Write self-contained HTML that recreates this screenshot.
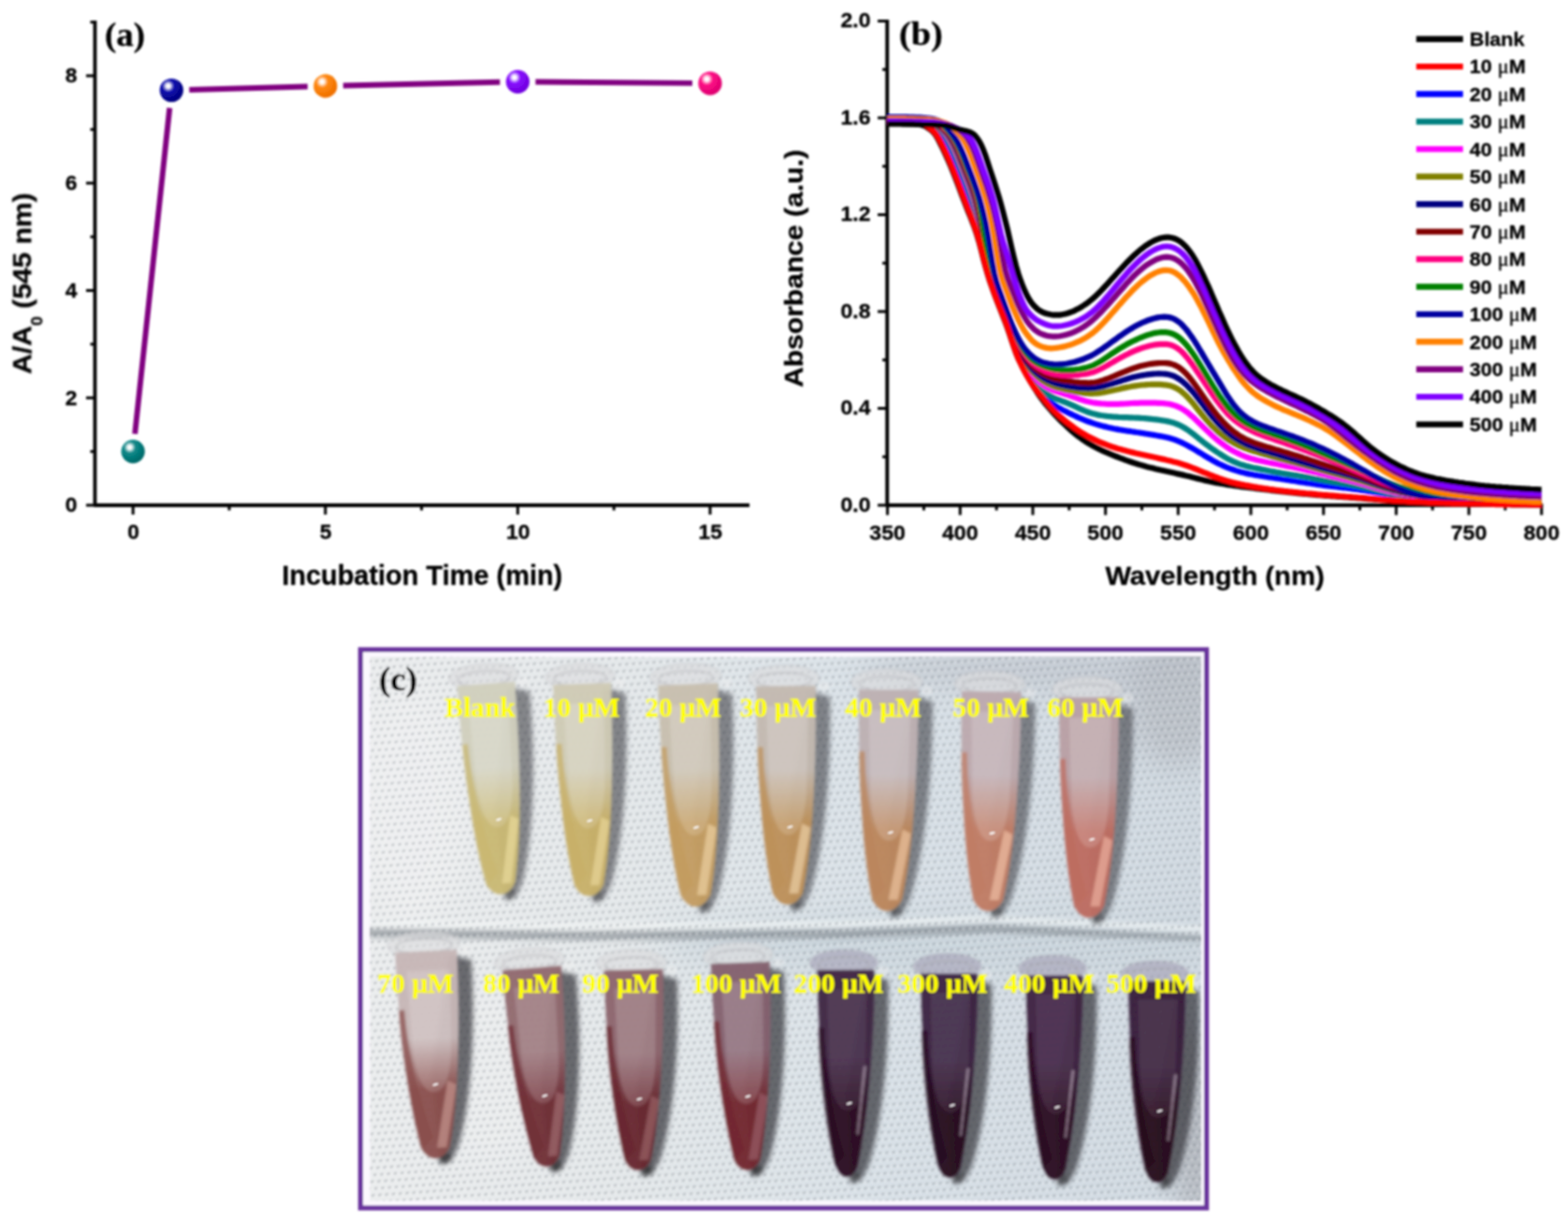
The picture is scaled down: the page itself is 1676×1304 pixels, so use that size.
<!DOCTYPE html>
<html lang="en"><head><meta charset="utf-8"><title>Figure</title>
<style>
html,body{margin:0;padding:0;background:#fff;}
body{width:1676px;height:1304px;overflow:hidden;position:relative;}
svg{display:block;position:absolute;left:0;top:0;}
text{white-space:pre;}
</style></head><body>
<svg width="1676" height="1304" viewBox="0 0 1676 1304">
<defs>
<radialGradient id="sph-teal" cx="0.36" cy="0.32" r="0.75" fx="0.36" fy="0.32"><stop offset="0" stop-color="#fff"/><stop offset="0.10" stop-color="#fff" stop-opacity="1"/><stop offset="0.32" stop-color="#0a8a8a"/><stop offset="0.85" stop-color="#006a6a"/><stop offset="1" stop-color="#006a6a"/></radialGradient>
<radialGradient id="sph-navy" cx="0.36" cy="0.32" r="0.75" fx="0.36" fy="0.32"><stop offset="0" stop-color="#fff"/><stop offset="0.10" stop-color="#fff" stop-opacity="1"/><stop offset="0.32" stop-color="#1010b0"/><stop offset="0.85" stop-color="#000080"/><stop offset="1" stop-color="#000080"/></radialGradient>
<radialGradient id="sph-orange" cx="0.36" cy="0.32" r="0.75" fx="0.36" fy="0.32"><stop offset="0" stop-color="#fff"/><stop offset="0.10" stop-color="#fff" stop-opacity="1"/><stop offset="0.32" stop-color="#ff8a10"/><stop offset="0.85" stop-color="#f07000"/><stop offset="1" stop-color="#f07000"/></radialGradient>
<radialGradient id="sph-violet" cx="0.36" cy="0.32" r="0.75" fx="0.36" fy="0.32"><stop offset="0" stop-color="#fff"/><stop offset="0.10" stop-color="#fff" stop-opacity="1"/><stop offset="0.32" stop-color="#8a10ff"/><stop offset="0.85" stop-color="#7000e0"/><stop offset="1" stop-color="#7000e0"/></radialGradient>
<radialGradient id="sph-pink" cx="0.36" cy="0.32" r="0.75" fx="0.36" fy="0.32"><stop offset="0" stop-color="#fff"/><stop offset="0.10" stop-color="#fff" stop-opacity="1"/><stop offset="0.32" stop-color="#ff1088"/><stop offset="0.85" stop-color="#e00070"/><stop offset="1" stop-color="#e00070"/></radialGradient>
<filter id="soft" x="0" y="0" width="1676" height="1304" filterUnits="userSpaceOnUse"><feGaussianBlur stdDeviation="0.8"/></filter>
<filter id="soft2" x="0" y="0" width="1676" height="1304" filterUnits="userSpaceOnUse"><feGaussianBlur stdDeviation="0.8"/></filter>
<linearGradient id="tg-Blank" x1="0" y1="0" x2="0" y2="1"><stop offset="0" stop-color="#d0cfbd"/><stop offset="0.40" stop-color="#d0cfbd"/><stop offset="0.65" stop-color="#c9b873"/><stop offset="1" stop-color="#c9b873"/></linearGradient>
<linearGradient id="tg-10" x1="0" y1="0" x2="0" y2="1"><stop offset="0" stop-color="#cfcab4"/><stop offset="0.40" stop-color="#cfcab4"/><stop offset="0.65" stop-color="#c8b068"/><stop offset="1" stop-color="#c8b068"/></linearGradient>
<linearGradient id="tg-20" x1="0" y1="0" x2="0" y2="1"><stop offset="0" stop-color="#c8bfae"/><stop offset="0.38" stop-color="#c8bfae"/><stop offset="0.63" stop-color="#c39c60"/><stop offset="1" stop-color="#c39c60"/></linearGradient>
<linearGradient id="tg-30" x1="0" y1="0" x2="0" y2="1"><stop offset="0" stop-color="#c3b9b0"/><stop offset="0.38" stop-color="#c3b9b0"/><stop offset="0.63" stop-color="#bd9058"/><stop offset="1" stop-color="#bd9058"/></linearGradient>
<linearGradient id="tg-40" x1="0" y1="0" x2="0" y2="1"><stop offset="0" stop-color="#bdb0b2"/><stop offset="0.38" stop-color="#bdb0b2"/><stop offset="0.63" stop-color="#bb865c"/><stop offset="1" stop-color="#bb865c"/></linearGradient>
<linearGradient id="tg-50" x1="0" y1="0" x2="0" y2="1"><stop offset="0" stop-color="#bca9ae"/><stop offset="0.38" stop-color="#bca9ae"/><stop offset="0.63" stop-color="#c07c64"/><stop offset="1" stop-color="#c07c64"/></linearGradient>
<linearGradient id="tg-60" x1="0" y1="0" x2="0" y2="1"><stop offset="0" stop-color="#b9a0a4"/><stop offset="0.36" stop-color="#b9a0a4"/><stop offset="0.61" stop-color="#bd6c60"/><stop offset="1" stop-color="#bd6c60"/></linearGradient>
<linearGradient id="tg-70" x1="0" y1="0" x2="0" y2="1"><stop offset="0" stop-color="#c6b6b6"/><stop offset="0.42" stop-color="#c6b6b6"/><stop offset="0.67" stop-color="#8a4e4c"/><stop offset="1" stop-color="#8a4e4c"/></linearGradient>
<linearGradient id="tg-80" x1="0" y1="0" x2="0" y2="1"><stop offset="0" stop-color="#91696f"/><stop offset="0.42" stop-color="#91696f"/><stop offset="0.67" stop-color="#702e36"/><stop offset="1" stop-color="#702e36"/></linearGradient>
<linearGradient id="tg-90" x1="0" y1="0" x2="0" y2="1"><stop offset="0" stop-color="#8d656d"/><stop offset="0.42" stop-color="#8d656d"/><stop offset="0.67" stop-color="#68262e"/><stop offset="1" stop-color="#68262e"/></linearGradient>
<linearGradient id="tg-100" x1="0" y1="0" x2="0" y2="1"><stop offset="0" stop-color="#84606e"/><stop offset="0.42" stop-color="#84606e"/><stop offset="0.67" stop-color="#722830"/><stop offset="1" stop-color="#722830"/></linearGradient>
<linearGradient id="tg-200" x1="0" y1="0" x2="0" y2="1"><stop offset="0" stop-color="#402644"/><stop offset="0.42" stop-color="#402644"/><stop offset="0.67" stop-color="#2a0c22"/><stop offset="1" stop-color="#2a0c22"/></linearGradient>
<linearGradient id="tg-300" x1="0" y1="0" x2="0" y2="1"><stop offset="0" stop-color="#3c2442"/><stop offset="0.42" stop-color="#3c2442"/><stop offset="0.67" stop-color="#260a20"/><stop offset="1" stop-color="#260a20"/></linearGradient>
<linearGradient id="tg-400" x1="0" y1="0" x2="0" y2="1"><stop offset="0" stop-color="#3e2242"/><stop offset="0.42" stop-color="#3e2242"/><stop offset="0.67" stop-color="#2a0a22"/><stop offset="1" stop-color="#2a0a22"/></linearGradient>
<linearGradient id="tg-500" x1="0" y1="0" x2="0" y2="1"><stop offset="0" stop-color="#381e3c"/><stop offset="0.42" stop-color="#381e3c"/><stop offset="0.67" stop-color="#26081c"/><stop offset="1" stop-color="#26081c"/></linearGradient>
<linearGradient id="bg-h" x1="0" y1="0" x2="1" y2="0"><stop offset="0" stop-color="#ebedee"/><stop offset="0.3" stop-color="#e4e8ea"/><stop offset="0.6" stop-color="#d9e1e7"/><stop offset="1" stop-color="#d0d9e1"/></linearGradient>
<filter id="blur05" x="-5%" y="-5%" width="110%" height="110%"><feGaussianBlur stdDeviation="0.7"/></filter>
<filter id="blur1" x="-20%" y="-20%" width="140%" height="140%"><feGaussianBlur stdDeviation="1.2"/></filter>
<filter id="blur2" x="-30%" y="-30%" width="160%" height="160%"><feGaussianBlur stdDeviation="2.5"/></filter>
<filter id="blur4" x="-40%" y="-40%" width="180%" height="180%"><feGaussianBlur stdDeviation="4"/></filter>
<filter id="blur12" x="-40%" y="-40%" width="180%" height="180%"><feGaussianBlur stdDeviation="16"/></filter>
<pattern id="towel" width="7.3" height="14.6" patternUnits="userSpaceOnUse" patternTransform="rotate(-4)"><ellipse cx="2" cy="3" rx="2.3" ry="1.25" fill="#5c636c" transform="rotate(-18 2 3)"/><ellipse cx="5.65" cy="10.3" rx="2.3" ry="1.25" fill="#5c636c" transform="rotate(-18 5.65 10.3)"/><ellipse cx="5.4" cy="4.2" rx="1.8" ry="1.2" fill="#ffffff"/><ellipse cx="1.8" cy="11.5" rx="1.8" ry="1.2" fill="#ffffff"/></pattern>
<clipPath id="photo-clip"><rect x="395.3" y="701.9" width="888.7" height="581.6"/></clipPath>
</defs>
<rect width="1676" height="1304" fill="#fff"/>
<g filter="url(#soft)">
<g id="panel-a">
<line x1="144.21" y1="463.73" x2="181.31" y2="115.38" stroke="#800080" stroke-width="5.9"/>
<line x1="202.31" y1="95.96" x2="328.81" y2="92.43" stroke="#800080" stroke-width="5.9"/>
<line x1="366.80" y1="91.48" x2="534.40" y2="87.74" stroke="#800080" stroke-width="5.9"/>
<line x1="572.40" y1="87.47" x2="740.00" y2="88.87" stroke="#800080" stroke-width="5.9"/>
<g stroke="#000" stroke-width="3.8" fill="none" stroke-linejoin="round">
<path d="M101.5 21.93 V540.0 H801.12"/>
</g>
<g stroke="#000" stroke-width="3" fill="none">
<line x1="92.0" x2="101.5" y1="540.00" y2="540.00"/>
<line x1="92.0" x2="101.5" y1="425.25" y2="425.25"/>
<line x1="92.0" x2="101.5" y1="310.50" y2="310.50"/>
<line x1="92.0" x2="101.5" y1="195.75" y2="195.75"/>
<line x1="92.0" x2="101.5" y1="81.00" y2="81.00"/>
<line x1="96.5" x2="101.5" y1="482.62" y2="482.62"/>
<line x1="96.5" x2="101.5" y1="367.88" y2="367.88"/>
<line x1="96.5" x2="101.5" y1="253.12" y2="253.12"/>
<line x1="96.5" x2="101.5" y1="138.38" y2="138.38"/>
<line x1="96.5" x2="101.5" y1="23.62" y2="23.62"/>
<line x1="142.20" x2="142.20" y1="540.0" y2="550.0"/>
<line x1="347.80" x2="347.80" y1="540.0" y2="550.0"/>
<line x1="553.40" x2="553.40" y1="540.0" y2="550.0"/>
<line x1="759.00" x2="759.00" y1="540.0" y2="550.0"/>
<line x1="245.00" x2="245.00" y1="540.0" y2="545.5"/>
<line x1="450.60" x2="450.60" y1="540.0" y2="545.5"/>
<line x1="656.20" x2="656.20" y1="540.0" y2="545.5"/>
</g>
<text transform="translate(82.40 547.30) scale(1.04 1)" text-anchor="end" font-family='"Liberation Sans", sans-serif' font-weight="bold" font-size="22.0" fill="#000" stroke="#000" stroke-width="0.3">0</text>
<text transform="translate(82.40 432.55) scale(1.04 1)" text-anchor="end" font-family='"Liberation Sans", sans-serif' font-weight="bold" font-size="22.0" fill="#000" stroke="#000" stroke-width="0.3">2</text>
<text transform="translate(82.40 317.80) scale(1.04 1)" text-anchor="end" font-family='"Liberation Sans", sans-serif' font-weight="bold" font-size="22.0" fill="#000" stroke="#000" stroke-width="0.3">4</text>
<text transform="translate(82.40 203.05) scale(1.04 1)" text-anchor="end" font-family='"Liberation Sans", sans-serif' font-weight="bold" font-size="22.0" fill="#000" stroke="#000" stroke-width="0.3">6</text>
<text transform="translate(82.40 88.30) scale(1.04 1)" text-anchor="end" font-family='"Liberation Sans", sans-serif' font-weight="bold" font-size="22.0" fill="#000" stroke="#000" stroke-width="0.3">8</text>
<text transform="translate(142.50 576.40) scale(1.04 1)" text-anchor="middle" font-family='"Liberation Sans", sans-serif' font-weight="bold" font-size="22.0" fill="#000" stroke="#000" stroke-width="0.3">0</text>
<text transform="translate(348.10 576.40) scale(1.04 1)" text-anchor="middle" font-family='"Liberation Sans", sans-serif' font-weight="bold" font-size="22.0" fill="#000" stroke="#000" stroke-width="0.3">5</text>
<text transform="translate(553.70 576.40) scale(1.04 1)" text-anchor="middle" font-family='"Liberation Sans", sans-serif' font-weight="bold" font-size="22.0" fill="#000" stroke="#000" stroke-width="0.3">10</text>
<text transform="translate(759.30 576.40) scale(1.04 1)" text-anchor="middle" font-family='"Liberation Sans", sans-serif' font-weight="bold" font-size="22.0" fill="#000" stroke="#000" stroke-width="0.3">15</text>
<text transform="translate(451.20 625.20) scale(1.005 1)" text-anchor="middle" font-family='"Liberation Sans", sans-serif' font-weight="bold" font-size="28.8" fill="#000" stroke="#000" stroke-width="0.3">Incubation Time (min)</text>
<text transform="translate(33.2 303) rotate(-90) scale(1.06 1)" text-anchor="middle" font-family='"Liberation Sans", sans-serif' font-weight="bold" font-size="28.4" fill="#000" stroke="#000" stroke-width="0.3">A/A<tspan font-size="17" dy="11.5">0</tspan><tspan dy="-11.5"> (545 nm)</tspan></text>
<text transform="translate(112.00 48.50) scale(1.04 1)" text-anchor="start" font-family='"Liberation Serif", serif' font-weight="bold" font-size="35.5" fill="#000" stroke="#000" stroke-width="0.3">(a)</text>
<circle cx="142.20" cy="482.62" r="12.6" fill="url(#sph-teal)"/>
<circle cx="183.32" cy="96.49" r="12.6" fill="url(#sph-navy)"/>
<circle cx="347.80" cy="91.90" r="12.6" fill="url(#sph-orange)"/>
<circle cx="553.40" cy="87.31" r="12.6" fill="url(#sph-violet)"/>
<circle cx="759.00" cy="89.03" r="12.6" fill="url(#sph-pink)"/>
</g>
<g id="panel-b">
<path d="M948.3000000000001 21.00 V540.0 H1649.22" stroke="#000" stroke-width="3.9" stroke-linejoin="round" fill="none"/>
<g stroke="#000" stroke-width="3" fill="none">
<line x1="938.1" x2="948.6" y1="540.00" y2="540.00"/>
<line x1="938.1" x2="948.6" y1="436.50" y2="436.50"/>
<line x1="938.1" x2="948.6" y1="333.00" y2="333.00"/>
<line x1="938.1" x2="948.6" y1="229.50" y2="229.50"/>
<line x1="938.1" x2="948.6" y1="126.00" y2="126.00"/>
<line x1="938.1" x2="948.6" y1="22.50" y2="22.50"/>
<line x1="943.1" x2="948.6" y1="488.25" y2="488.25"/>
<line x1="943.1" x2="948.6" y1="384.75" y2="384.75"/>
<line x1="943.1" x2="948.6" y1="281.25" y2="281.25"/>
<line x1="943.1" x2="948.6" y1="177.75" y2="177.75"/>
<line x1="943.1" x2="948.6" y1="74.25" y2="74.25"/>
<line x1="948.60" x2="948.60" y1="540.0" y2="550.5"/>
<line x1="1026.28" x2="1026.28" y1="540.0" y2="550.5"/>
<line x1="1103.96" x2="1103.96" y1="540.0" y2="550.5"/>
<line x1="1181.64" x2="1181.64" y1="540.0" y2="550.5"/>
<line x1="1259.32" x2="1259.32" y1="540.0" y2="550.5"/>
<line x1="1337.00" x2="1337.00" y1="540.0" y2="550.5"/>
<line x1="1414.68" x2="1414.68" y1="540.0" y2="550.5"/>
<line x1="1492.36" x2="1492.36" y1="540.0" y2="550.5"/>
<line x1="1570.04" x2="1570.04" y1="540.0" y2="550.5"/>
<line x1="1647.72" x2="1647.72" y1="540.0" y2="550.5"/>
<line x1="987.44" x2="987.44" y1="540.0" y2="545.5"/>
<line x1="1065.12" x2="1065.12" y1="540.0" y2="545.5"/>
<line x1="1142.80" x2="1142.80" y1="540.0" y2="545.5"/>
<line x1="1220.48" x2="1220.48" y1="540.0" y2="545.5"/>
<line x1="1298.16" x2="1298.16" y1="540.0" y2="545.5"/>
<line x1="1375.84" x2="1375.84" y1="540.0" y2="545.5"/>
<line x1="1453.52" x2="1453.52" y1="540.0" y2="545.5"/>
<line x1="1531.20" x2="1531.20" y1="540.0" y2="545.5"/>
<line x1="1608.88" x2="1608.88" y1="540.0" y2="545.5"/>
</g>
<g font-family='"Liberation Sans", sans-serif' font-weight="bold" font-size="23.3" fill="#000">
<text transform="translate(930.60 546.90) scale(1.05 1)" text-anchor="end" font-family='"Liberation Sans", sans-serif' font-weight="bold" font-size="22.0" fill="#000" stroke="#000" stroke-width="0.3">0.0</text>
<text transform="translate(930.60 443.40) scale(1.05 1)" text-anchor="end" font-family='"Liberation Sans", sans-serif' font-weight="bold" font-size="22.0" fill="#000" stroke="#000" stroke-width="0.3">0.4</text>
<text transform="translate(930.60 339.90) scale(1.05 1)" text-anchor="end" font-family='"Liberation Sans", sans-serif' font-weight="bold" font-size="22.0" fill="#000" stroke="#000" stroke-width="0.3">0.8</text>
<text transform="translate(930.60 236.40) scale(1.05 1)" text-anchor="end" font-family='"Liberation Sans", sans-serif' font-weight="bold" font-size="22.0" fill="#000" stroke="#000" stroke-width="0.3">1.2</text>
<text transform="translate(930.60 132.90) scale(1.05 1)" text-anchor="end" font-family='"Liberation Sans", sans-serif' font-weight="bold" font-size="22.0" fill="#000" stroke="#000" stroke-width="0.3">1.6</text>
<text transform="translate(930.60 29.40) scale(1.05 1)" text-anchor="end" font-family='"Liberation Sans", sans-serif' font-weight="bold" font-size="22.0" fill="#000" stroke="#000" stroke-width="0.3">2.0</text>
<text transform="translate(948.60 576.50) scale(1.05 1)" text-anchor="middle" font-family='"Liberation Sans", sans-serif' font-weight="bold" font-size="22.0" fill="#000" stroke="#000" stroke-width="0.3">350</text>
<text transform="translate(1026.28 576.50) scale(1.05 1)" text-anchor="middle" font-family='"Liberation Sans", sans-serif' font-weight="bold" font-size="22.0" fill="#000" stroke="#000" stroke-width="0.3">400</text>
<text transform="translate(1103.96 576.50) scale(1.05 1)" text-anchor="middle" font-family='"Liberation Sans", sans-serif' font-weight="bold" font-size="22.0" fill="#000" stroke="#000" stroke-width="0.3">450</text>
<text transform="translate(1181.64 576.50) scale(1.05 1)" text-anchor="middle" font-family='"Liberation Sans", sans-serif' font-weight="bold" font-size="22.0" fill="#000" stroke="#000" stroke-width="0.3">500</text>
<text transform="translate(1259.32 576.50) scale(1.05 1)" text-anchor="middle" font-family='"Liberation Sans", sans-serif' font-weight="bold" font-size="22.0" fill="#000" stroke="#000" stroke-width="0.3">550</text>
<text transform="translate(1337.00 576.50) scale(1.05 1)" text-anchor="middle" font-family='"Liberation Sans", sans-serif' font-weight="bold" font-size="22.0" fill="#000" stroke="#000" stroke-width="0.3">600</text>
<text transform="translate(1414.68 576.50) scale(1.05 1)" text-anchor="middle" font-family='"Liberation Sans", sans-serif' font-weight="bold" font-size="22.0" fill="#000" stroke="#000" stroke-width="0.3">650</text>
<text transform="translate(1492.36 576.50) scale(1.05 1)" text-anchor="middle" font-family='"Liberation Sans", sans-serif' font-weight="bold" font-size="22.0" fill="#000" stroke="#000" stroke-width="0.3">700</text>
<text transform="translate(1570.04 576.50) scale(1.05 1)" text-anchor="middle" font-family='"Liberation Sans", sans-serif' font-weight="bold" font-size="22.0" fill="#000" stroke="#000" stroke-width="0.3">750</text>
<text transform="translate(1647.72 576.50) scale(1.05 1)" text-anchor="middle" font-family='"Liberation Sans", sans-serif' font-weight="bold" font-size="22.0" fill="#000" stroke="#000" stroke-width="0.3">800</text>
</g>
<text transform="translate(1298.50 624.80) scale(1.04 1)" text-anchor="middle" font-family='"Liberation Sans", sans-serif' font-weight="bold" font-size="28.1" fill="#000" stroke="#000" stroke-width="0.3">Wavelength (nm)</text>
<text transform="translate(858.2 287) rotate(-90) scale(1.06 1)" text-anchor="middle" font-family='"Liberation Sans", sans-serif' font-weight="bold" font-size="28.4" fill="#000" stroke="#000" stroke-width="0.3">Absorbance (a.u.)</text>
<text transform="translate(961.00 48.30) scale(1.08 1)" text-anchor="start" font-family='"Liberation Serif", serif' font-weight="bold" font-size="35.5" fill="#000" stroke="#000" stroke-width="0.3">(b)</text>
<g fill="none" stroke-width="6.2" stroke-linejoin="round" stroke-linecap="butt">
<path d="M948.6 131.7 L950.9 131.7 L953.3 131.7 L955.6 131.8 L957.9 131.8 L960.3 131.9 L962.6 131.9 L964.9 132.0 L967.2 132.0 L969.6 132.1 L971.9 132.2 L974.2 132.3 L976.6 132.4 L978.9 132.5 L981.2 132.7 L983.6 133.1 L985.9 133.7 L988.2 134.6 L990.5 135.8 L992.9 137.4 L995.2 139.1 L997.5 141.3 L999.9 144.1 L1002.2 147.8 L1004.5 152.2 L1006.9 157.0 L1009.2 161.9 L1011.5 166.9 L1013.9 172.2 L1016.2 177.6 L1018.5 183.3 L1020.8 189.2 L1023.2 195.3 L1025.5 201.5 L1027.8 207.8 L1030.2 214.0 L1032.5 220.0 L1034.8 225.8 L1037.2 231.6 L1039.5 237.5 L1041.8 243.7 L1044.1 250.6 L1046.5 258.5 L1048.8 267.3 L1051.1 276.5 L1053.5 285.4 L1055.8 293.4 L1058.1 300.7 L1060.5 307.5 L1062.8 314.0 L1065.1 320.2 L1067.5 326.3 L1069.8 332.1 L1072.1 338.0 L1074.4 344.0 L1076.8 350.4 L1079.1 357.0 L1081.4 364.0 L1083.8 371.0 L1086.1 377.5 L1088.4 383.1 L1090.8 388.0 L1093.1 392.5 L1095.4 396.9 L1097.7 401.2 L1100.1 405.4 L1102.4 409.4 L1104.7 413.2 L1107.1 416.9 L1109.4 420.5 L1111.7 423.9 L1114.1 427.1 L1116.4 430.2 L1118.7 433.1 L1121.0 435.8 L1123.4 438.5 L1125.7 441.1 L1128.0 443.6 L1130.4 446.1 L1132.7 448.5 L1135.0 450.8 L1137.4 453.1 L1139.7 455.3 L1142.0 457.5 L1144.4 459.6 L1146.7 461.6 L1149.0 463.5 L1151.3 465.4 L1153.7 467.1 L1156.0 468.9 L1158.3 470.5 L1160.7 472.1 L1163.0 473.5 L1165.3 474.9 L1167.7 476.3 L1170.0 477.6 L1172.3 478.8 L1174.6 479.9 L1177.0 481.1 L1179.3 482.1 L1181.6 483.2 L1184.0 484.2 L1186.3 485.2 L1188.6 486.1 L1191.0 487.1 L1193.3 488.0 L1195.6 488.9 L1198.0 489.8 L1200.3 490.7 L1202.6 491.6 L1204.9 492.4 L1207.3 493.2 L1209.6 494.0 L1211.9 494.8 L1214.3 495.5 L1216.6 496.2 L1218.9 496.9 L1221.3 497.6 L1223.6 498.2 L1225.9 498.9 L1228.2 499.5 L1230.6 500.0 L1232.9 500.6 L1235.2 501.2 L1237.6 501.7 L1239.9 502.3 L1242.2 502.8 L1244.6 503.3 L1246.9 503.8 L1249.2 504.3 L1251.6 504.8 L1253.9 505.3 L1256.2 505.8 L1258.5 506.4 L1260.9 506.9 L1263.2 507.4 L1265.5 507.9 L1267.9 508.5 L1270.2 509.0 L1272.5 509.6 L1274.9 510.2 L1277.2 510.8 L1279.5 511.4 L1281.8 511.9 L1284.2 512.5 L1286.5 513.1 L1288.8 513.6 L1291.2 514.1 L1293.5 514.7 L1295.8 515.1 L1298.2 515.6 L1300.5 516.1 L1302.8 516.5 L1305.2 516.9 L1307.5 517.3 L1309.8 517.7 L1312.1 518.1 L1314.5 518.5 L1316.8 518.8 L1319.1 519.2 L1321.5 519.5 L1323.8 519.8 L1326.1 520.1 L1328.5 520.4 L1330.8 520.7 L1333.1 520.9 L1335.4 521.2 L1337.8 521.5 L1340.1 521.8 L1342.4 522.1 L1344.8 522.3 L1347.1 522.6 L1349.4 522.9 L1351.8 523.2 L1354.1 523.5 L1356.4 523.8 L1358.8 524.1 L1361.1 524.3 L1363.4 524.6 L1365.7 524.9 L1368.1 525.1 L1370.4 525.4 L1372.7 525.7 L1375.1 525.9 L1377.4 526.2 L1379.7 526.4 L1382.1 526.6 L1384.4 526.9 L1386.7 527.1 L1389.0 527.3 L1391.4 527.6 L1393.7 527.8 L1396.0 528.0 L1398.4 528.2 L1400.7 528.4 L1403.0 528.6 L1405.4 528.8 L1407.7 529.1 L1410.0 529.2 L1412.3 529.4 L1414.7 529.6 L1417.0 529.8 L1419.3 530.0 L1421.7 530.2 L1424.0 530.4 L1426.3 530.5 L1428.7 530.7 L1431.0 530.9 L1433.3 531.0 L1435.7 531.2 L1438.0 531.4 L1440.3 531.5 L1442.6 531.7 L1445.0 531.9 L1447.3 532.0 L1449.6 532.2 L1452.0 532.4 L1454.3 532.5 L1456.6 532.7 L1459.0 532.9 L1461.3 533.1 L1463.6 533.3 L1465.9 533.4 L1468.3 533.6 L1470.6 533.8 L1472.9 534.0 L1475.3 534.1 L1477.6 534.3 L1479.9 534.5 L1482.3 534.7 L1484.6 534.8 L1486.9 535.0 L1489.3 535.1 L1491.6 535.3 L1493.9 535.4 L1496.2 535.6 L1498.6 535.7 L1500.9 535.8 L1503.2 536.0 L1505.6 536.1 L1507.9 536.2 L1510.2 536.3 L1512.6 536.4 L1514.9 536.6 L1517.2 536.7 L1519.5 536.8 L1521.9 536.9 L1524.2 537.0 L1526.5 537.1 L1528.9 537.2 L1531.2 537.3 L1533.5 537.4 L1535.9 537.5 L1538.2 537.6 L1540.5 537.7 L1542.9 537.7 L1545.2 537.8 L1547.5 537.9 L1549.8 538.0 L1552.2 538.0 L1554.5 538.1 L1556.8 538.2 L1559.2 538.2 L1561.5 538.3 L1563.8 538.4 L1566.2 538.4 L1568.5 538.5 L1570.8 538.5 L1573.1 538.6 L1575.5 538.7 L1577.8 538.7 L1580.1 538.8 L1582.5 538.8 L1584.8 538.8 L1587.1 538.9 L1589.5 538.9 L1591.8 539.0 L1594.1 539.0 L1596.5 539.0 L1598.8 539.1 L1601.1 539.1 L1603.4 539.1 L1605.8 539.1 L1608.1 539.2 L1610.4 539.2 L1612.8 539.2 L1615.1 539.3 L1617.4 539.3 L1619.8 539.3 L1622.1 539.3 L1624.4 539.3 L1626.7 539.4 L1629.1 539.4 L1631.4 539.4 L1633.7 539.4 L1636.1 539.4 L1638.4 539.4 L1640.7 539.5 L1643.1 539.5 L1645.4 539.5 L1647.7 539.5" stroke="#000000"/>
<path d="M948.6 126.0 L950.9 126.0 L953.3 126.0 L955.6 126.1 L957.9 126.1 L960.3 126.1 L962.6 126.2 L964.9 126.2 L967.2 126.3 L969.6 126.4 L971.9 126.5 L974.2 126.6 L976.6 126.7 L978.9 126.8 L981.2 127.0 L983.6 127.2 L985.9 127.4 L988.2 127.7 L990.5 128.2 L992.9 129.0 L995.2 130.4 L997.5 132.2 L999.9 134.5 L1002.2 137.0 L1004.5 139.8 L1006.9 142.8 L1009.2 146.3 L1011.5 150.3 L1013.9 154.7 L1016.2 159.5 L1018.5 164.6 L1020.8 170.0 L1023.2 175.7 L1025.5 181.4 L1027.8 187.3 L1030.2 193.4 L1032.5 199.6 L1034.8 206.1 L1037.2 213.0 L1039.5 220.3 L1041.8 228.0 L1044.1 236.3 L1046.5 245.2 L1048.8 254.9 L1051.1 265.6 L1053.5 276.7 L1055.8 286.9 L1058.1 295.8 L1060.5 303.4 L1062.8 310.3 L1065.1 316.9 L1067.5 323.1 L1069.8 329.2 L1072.1 335.1 L1074.4 341.2 L1076.8 347.5 L1079.1 354.3 L1081.4 361.4 L1083.8 368.5 L1086.1 375.0 L1088.4 380.8 L1090.8 386.0 L1093.1 390.6 L1095.4 394.9 L1097.7 398.9 L1100.1 402.7 L1102.4 406.2 L1104.7 409.6 L1107.1 412.8 L1109.4 415.7 L1111.7 418.6 L1114.1 421.2 L1116.4 423.7 L1118.7 426.0 L1121.0 428.2 L1123.4 430.2 L1125.7 432.0 L1128.0 433.6 L1130.4 435.1 L1132.7 436.4 L1135.0 437.7 L1137.4 438.9 L1139.7 440.1 L1142.0 441.3 L1144.4 442.4 L1146.7 443.5 L1149.0 444.5 L1151.3 445.6 L1153.7 446.7 L1156.0 447.7 L1158.3 448.6 L1160.7 449.6 L1163.0 450.5 L1165.3 451.3 L1167.7 452.1 L1170.0 452.9 L1172.3 453.6 L1174.6 454.3 L1177.0 454.9 L1179.3 455.6 L1181.6 456.1 L1184.0 456.7 L1186.3 457.2 L1188.6 457.7 L1191.0 458.2 L1193.3 458.6 L1195.6 459.1 L1198.0 459.5 L1200.3 459.9 L1202.6 460.2 L1204.9 460.6 L1207.3 460.9 L1209.6 461.3 L1211.9 461.6 L1214.3 462.0 L1216.6 462.3 L1218.9 462.7 L1221.3 463.0 L1223.6 463.4 L1225.9 463.7 L1228.2 464.1 L1230.6 464.5 L1232.9 464.9 L1235.2 465.3 L1237.6 465.7 L1239.9 466.1 L1242.2 466.5 L1244.6 467.0 L1246.9 467.5 L1249.2 468.1 L1251.6 468.7 L1253.9 469.4 L1256.2 470.2 L1258.5 471.1 L1260.9 472.1 L1263.2 473.1 L1265.5 474.2 L1267.9 475.4 L1270.2 476.7 L1272.5 478.0 L1274.9 479.3 L1277.2 480.7 L1279.5 482.1 L1281.8 483.5 L1284.2 484.9 L1286.5 486.3 L1288.8 487.8 L1291.2 489.2 L1293.5 490.5 L1295.8 491.9 L1298.2 493.2 L1300.5 494.5 L1302.8 495.7 L1305.2 496.8 L1307.5 497.9 L1309.8 498.9 L1312.1 499.8 L1314.5 500.7 L1316.8 501.5 L1319.1 502.3 L1321.5 503.1 L1323.8 503.8 L1326.1 504.4 L1328.5 505.0 L1330.8 505.6 L1333.1 506.1 L1335.4 506.6 L1337.8 507.0 L1340.1 507.5 L1342.4 507.9 L1344.8 508.3 L1347.1 508.6 L1349.4 509.0 L1351.8 509.4 L1354.1 509.7 L1356.4 510.1 L1358.8 510.4 L1361.1 510.8 L1363.4 511.1 L1365.7 511.4 L1368.1 511.8 L1370.4 512.2 L1372.7 512.5 L1375.1 512.9 L1377.4 513.2 L1379.7 513.6 L1382.1 514.0 L1384.4 514.3 L1386.7 514.7 L1389.0 515.1 L1391.4 515.4 L1393.7 515.8 L1396.0 516.1 L1398.4 516.5 L1400.7 516.8 L1403.0 517.2 L1405.4 517.5 L1407.7 517.9 L1410.0 518.2 L1412.3 518.5 L1414.7 518.8 L1417.0 519.1 L1419.3 519.4 L1421.7 519.7 L1424.0 520.0 L1426.3 520.2 L1428.7 520.5 L1431.0 520.8 L1433.3 521.0 L1435.7 521.3 L1438.0 521.5 L1440.3 521.8 L1442.6 522.0 L1445.0 522.3 L1447.3 522.6 L1449.6 522.9 L1452.0 523.2 L1454.3 523.6 L1456.6 523.9 L1459.0 524.3 L1461.3 524.7 L1463.6 525.1 L1465.9 525.5 L1468.3 525.9 L1470.6 526.3 L1472.9 526.7 L1475.3 527.1 L1477.6 527.5 L1479.9 527.9 L1482.3 528.3 L1484.6 528.6 L1486.9 529.0 L1489.3 529.4 L1491.6 529.7 L1493.9 530.0 L1496.2 530.4 L1498.6 530.7 L1500.9 531.0 L1503.2 531.3 L1505.6 531.6 L1507.9 531.9 L1510.2 532.2 L1512.6 532.5 L1514.9 532.8 L1517.2 533.1 L1519.5 533.3 L1521.9 533.6 L1524.2 533.8 L1526.5 534.1 L1528.9 534.3 L1531.2 534.5 L1533.5 534.7 L1535.9 534.9 L1538.2 535.1 L1540.5 535.3 L1542.9 535.5 L1545.2 535.6 L1547.5 535.8 L1549.8 535.9 L1552.2 536.1 L1554.5 536.2 L1556.8 536.4 L1559.2 536.5 L1561.5 536.6 L1563.8 536.8 L1566.2 536.9 L1568.5 537.0 L1570.8 537.1 L1573.1 537.2 L1575.5 537.3 L1577.8 537.4 L1580.1 537.5 L1582.5 537.6 L1584.8 537.7 L1587.1 537.8 L1589.5 537.8 L1591.8 537.9 L1594.1 538.0 L1596.5 538.0 L1598.8 538.1 L1601.1 538.2 L1603.4 538.2 L1605.8 538.3 L1608.1 538.4 L1610.4 538.4 L1612.8 538.5 L1615.1 538.5 L1617.4 538.6 L1619.8 538.6 L1622.1 538.7 L1624.4 538.7 L1626.7 538.7 L1629.1 538.8 L1631.4 538.8 L1633.7 538.8 L1636.1 538.9 L1638.4 538.9 L1640.7 538.9 L1643.1 538.9 L1645.4 538.9 L1647.7 538.9" stroke="#0000ff"/>
<path d="M948.6 128.1 L950.9 128.1 L953.3 128.1 L955.6 128.1 L957.9 128.2 L960.3 128.2 L962.6 128.2 L964.9 128.3 L967.2 128.4 L969.6 128.4 L971.9 128.5 L974.2 128.6 L976.6 128.7 L978.9 128.8 L981.2 129.0 L983.6 129.2 L985.9 129.4 L988.2 129.7 L990.5 130.0 L992.9 130.5 L995.2 131.3 L997.5 132.5 L999.9 134.0 L1002.2 135.9 L1004.5 138.1 L1006.9 140.5 L1009.2 143.3 L1011.5 146.6 L1013.9 150.6 L1016.2 155.0 L1018.5 159.9 L1020.8 165.1 L1023.2 170.6 L1025.5 176.4 L1027.8 182.2 L1030.2 188.1 L1032.5 194.1 L1034.8 200.4 L1037.2 207.1 L1039.5 214.3 L1041.8 222.2 L1044.1 230.9 L1046.5 240.4 L1048.8 250.7 L1051.1 261.9 L1053.5 273.7 L1055.8 284.7 L1058.1 294.2 L1060.5 302.2 L1062.8 309.3 L1065.1 315.9 L1067.5 322.2 L1069.8 328.1 L1072.1 333.9 L1074.4 339.7 L1076.8 345.8 L1079.1 352.3 L1081.4 359.1 L1083.8 365.9 L1086.1 372.3 L1088.4 378.1 L1090.8 383.2 L1093.1 387.8 L1095.4 392.0 L1097.7 395.9 L1100.1 399.5 L1102.4 402.9 L1104.7 406.1 L1107.1 409.1 L1109.4 411.9 L1111.7 414.4 L1114.1 416.7 L1116.4 418.7 L1118.7 420.5 L1121.0 422.1 L1123.4 423.5 L1125.7 424.7 L1128.0 425.8 L1130.4 426.8 L1132.7 427.7 L1135.0 428.6 L1137.4 429.5 L1139.7 430.4 L1142.0 431.4 L1144.4 432.4 L1146.7 433.4 L1149.0 434.4 L1151.3 435.5 L1153.7 436.6 L1156.0 437.7 L1158.3 438.7 L1160.7 439.6 L1163.0 440.5 L1165.3 441.3 L1167.7 441.9 L1170.0 442.5 L1172.3 443.1 L1174.6 443.6 L1177.0 444.0 L1179.3 444.3 L1181.6 444.7 L1184.0 445.0 L1186.3 445.2 L1188.6 445.4 L1191.0 445.6 L1193.3 445.7 L1195.6 445.9 L1198.0 446.0 L1200.3 446.1 L1202.6 446.1 L1204.9 446.2 L1207.3 446.3 L1209.6 446.4 L1211.9 446.5 L1214.3 446.6 L1216.6 446.7 L1218.9 446.8 L1221.3 447.0 L1223.6 447.2 L1225.9 447.4 L1228.2 447.6 L1230.6 447.9 L1232.9 448.2 L1235.2 448.4 L1237.6 448.7 L1239.9 449.0 L1242.2 449.4 L1244.6 449.7 L1246.9 450.1 L1249.2 450.6 L1251.6 451.2 L1253.9 451.8 L1256.2 452.6 L1258.5 453.5 L1260.9 454.5 L1263.2 455.7 L1265.5 457.0 L1267.9 458.5 L1270.2 460.0 L1272.5 461.7 L1274.9 463.5 L1277.2 465.3 L1279.5 467.2 L1281.8 469.1 L1284.2 470.9 L1286.5 472.8 L1288.8 474.6 L1291.2 476.3 L1293.5 478.1 L1295.8 479.7 L1298.2 481.4 L1300.5 483.0 L1302.8 484.5 L1305.2 486.0 L1307.5 487.5 L1309.8 488.9 L1312.1 490.2 L1314.5 491.4 L1316.8 492.6 L1319.1 493.7 L1321.5 494.7 L1323.8 495.6 L1326.1 496.4 L1328.5 497.1 L1330.8 497.8 L1333.1 498.4 L1335.4 498.9 L1337.8 499.5 L1340.1 500.0 L1342.4 500.4 L1344.8 500.9 L1347.1 501.4 L1349.4 501.9 L1351.8 502.3 L1354.1 502.8 L1356.4 503.3 L1358.8 503.7 L1361.1 504.1 L1363.4 504.6 L1365.7 505.0 L1368.1 505.4 L1370.4 505.8 L1372.7 506.1 L1375.1 506.5 L1377.4 506.9 L1379.7 507.2 L1382.1 507.6 L1384.4 507.9 L1386.7 508.3 L1389.0 508.7 L1391.4 509.1 L1393.7 509.5 L1396.0 509.9 L1398.4 510.3 L1400.7 510.8 L1403.0 511.2 L1405.4 511.7 L1407.7 512.1 L1410.0 512.6 L1412.3 513.0 L1414.7 513.5 L1417.0 513.9 L1419.3 514.3 L1421.7 514.7 L1424.0 515.1 L1426.3 515.5 L1428.7 515.8 L1431.0 516.2 L1433.3 516.6 L1435.7 516.9 L1438.0 517.3 L1440.3 517.7 L1442.6 518.0 L1445.0 518.4 L1447.3 518.9 L1449.6 519.3 L1452.0 519.7 L1454.3 520.2 L1456.6 520.7 L1459.0 521.2 L1461.3 521.7 L1463.6 522.3 L1465.9 522.8 L1468.3 523.4 L1470.6 523.9 L1472.9 524.5 L1475.3 525.0 L1477.6 525.5 L1479.9 526.1 L1482.3 526.6 L1484.6 527.1 L1486.9 527.5 L1489.3 528.0 L1491.6 528.4 L1493.9 528.8 L1496.2 529.2 L1498.6 529.6 L1500.9 529.9 L1503.2 530.3 L1505.6 530.7 L1507.9 531.0 L1510.2 531.3 L1512.6 531.7 L1514.9 532.0 L1517.2 532.3 L1519.5 532.6 L1521.9 532.9 L1524.2 533.2 L1526.5 533.4 L1528.9 533.7 L1531.2 533.9 L1533.5 534.1 L1535.9 534.4 L1538.2 534.6 L1540.5 534.8 L1542.9 535.0 L1545.2 535.1 L1547.5 535.3 L1549.8 535.5 L1552.2 535.7 L1554.5 535.8 L1556.8 536.0 L1559.2 536.1 L1561.5 536.3 L1563.8 536.4 L1566.2 536.5 L1568.5 536.7 L1570.8 536.8 L1573.1 536.9 L1575.5 537.0 L1577.8 537.1 L1580.1 537.2 L1582.5 537.3 L1584.8 537.4 L1587.1 537.5 L1589.5 537.6 L1591.8 537.7 L1594.1 537.7 L1596.5 537.8 L1598.8 537.9 L1601.1 537.9 L1603.4 538.0 L1605.8 538.0 L1608.1 538.1 L1610.4 538.2 L1612.8 538.2 L1615.1 538.3 L1617.4 538.3 L1619.8 538.4 L1622.1 538.4 L1624.4 538.5 L1626.7 538.5 L1629.1 538.5 L1631.4 538.6 L1633.7 538.6 L1636.1 538.6 L1638.4 538.6 L1640.7 538.7 L1643.1 538.7 L1645.4 538.7 L1647.7 538.7" stroke="#008080"/>
<path d="M948.6 128.6 L950.9 128.6 L953.3 128.6 L955.6 128.6 L957.9 128.7 L960.3 128.7 L962.6 128.8 L964.9 128.8 L967.2 128.9 L969.6 128.9 L971.9 129.0 L974.2 129.1 L976.6 129.2 L978.9 129.3 L981.2 129.4 L983.6 129.6 L985.9 129.8 L988.2 130.1 L990.5 130.4 L992.9 130.8 L995.2 131.4 L997.5 132.2 L999.9 133.3 L1002.2 134.9 L1004.5 136.7 L1006.9 138.8 L1009.2 141.1 L1011.5 143.9 L1013.9 147.3 L1016.2 151.3 L1018.5 155.8 L1020.8 160.8 L1023.2 166.1 L1025.5 171.7 L1027.8 177.6 L1030.2 183.4 L1032.5 189.3 L1034.8 195.4 L1037.2 201.7 L1039.5 208.7 L1041.8 216.4 L1044.1 225.3 L1046.5 235.3 L1048.8 246.3 L1051.1 258.2 L1053.5 270.6 L1055.8 282.5 L1058.1 292.7 L1060.5 301.1 L1062.8 308.4 L1065.1 315.1 L1067.5 321.3 L1069.8 327.2 L1072.1 332.8 L1074.4 338.4 L1076.8 344.2 L1079.1 350.3 L1081.4 356.8 L1083.8 363.5 L1086.1 369.8 L1088.4 375.5 L1090.8 380.5 L1093.1 384.9 L1095.4 389.0 L1097.7 392.7 L1100.1 396.1 L1102.4 399.1 L1104.7 401.9 L1107.1 404.5 L1109.4 406.9 L1111.7 409.0 L1114.1 410.8 L1116.4 412.5 L1118.7 413.9 L1121.0 415.2 L1123.4 416.3 L1125.7 417.3 L1128.0 418.1 L1130.4 418.9 L1132.7 419.6 L1135.0 420.3 L1137.4 421.0 L1139.7 421.7 L1142.0 422.4 L1144.4 423.2 L1146.7 424.0 L1149.0 424.8 L1151.3 425.6 L1153.7 426.5 L1156.0 427.3 L1158.3 428.0 L1160.7 428.7 L1163.0 429.3 L1165.3 429.8 L1167.7 430.3 L1170.0 430.6 L1172.3 430.9 L1174.6 431.2 L1177.0 431.4 L1179.3 431.5 L1181.6 431.7 L1184.0 431.8 L1186.3 431.8 L1188.6 431.9 L1191.0 431.9 L1193.3 431.9 L1195.6 431.8 L1198.0 431.7 L1200.3 431.6 L1202.6 431.5 L1204.9 431.3 L1207.3 431.2 L1209.6 431.0 L1211.9 430.9 L1214.3 430.8 L1216.6 430.8 L1218.9 430.7 L1221.3 430.7 L1223.6 430.6 L1225.9 430.6 L1228.2 430.6 L1230.6 430.6 L1232.9 430.6 L1235.2 430.7 L1237.6 430.8 L1239.9 430.9 L1242.2 431.0 L1244.6 431.2 L1246.9 431.5 L1249.2 431.8 L1251.6 432.3 L1253.9 432.9 L1256.2 433.6 L1258.5 434.5 L1260.9 435.6 L1263.2 436.8 L1265.5 438.2 L1267.9 439.9 L1270.2 441.6 L1272.5 443.6 L1274.9 445.6 L1277.2 447.8 L1279.5 450.0 L1281.8 452.2 L1284.2 454.5 L1286.5 456.8 L1288.8 459.0 L1291.2 461.3 L1293.5 463.4 L1295.8 465.6 L1298.2 467.6 L1300.5 469.6 L1302.8 471.5 L1305.2 473.4 L1307.5 475.1 L1309.8 476.8 L1312.1 478.4 L1314.5 479.9 L1316.8 481.3 L1319.1 482.6 L1321.5 483.8 L1323.8 484.9 L1326.1 486.0 L1328.5 487.0 L1330.8 487.9 L1333.1 488.7 L1335.4 489.5 L1337.8 490.2 L1340.1 490.8 L1342.4 491.4 L1344.8 492.0 L1347.1 492.5 L1349.4 493.0 L1351.8 493.5 L1354.1 494.0 L1356.4 494.5 L1358.8 494.9 L1361.1 495.4 L1363.4 495.8 L1365.7 496.3 L1368.1 496.7 L1370.4 497.2 L1372.7 497.6 L1375.1 498.1 L1377.4 498.6 L1379.7 499.0 L1382.1 499.5 L1384.4 500.0 L1386.7 500.5 L1389.0 501.0 L1391.4 501.5 L1393.7 502.0 L1396.0 502.6 L1398.4 503.1 L1400.7 503.6 L1403.0 504.2 L1405.4 504.8 L1407.7 505.3 L1410.0 505.9 L1412.3 506.4 L1414.7 507.0 L1417.0 507.5 L1419.3 508.1 L1421.7 508.6 L1424.0 509.2 L1426.3 509.7 L1428.7 510.3 L1431.0 510.8 L1433.3 511.4 L1435.7 511.9 L1438.0 512.5 L1440.3 513.0 L1442.6 513.6 L1445.0 514.1 L1447.3 514.7 L1449.6 515.3 L1452.0 515.9 L1454.3 516.5 L1456.6 517.2 L1459.0 517.8 L1461.3 518.5 L1463.6 519.2 L1465.9 519.9 L1468.3 520.5 L1470.6 521.2 L1472.9 521.9 L1475.3 522.6 L1477.6 523.2 L1479.9 523.8 L1482.3 524.4 L1484.6 525.0 L1486.9 525.5 L1489.3 526.1 L1491.6 526.6 L1493.9 527.1 L1496.2 527.5 L1498.6 528.0 L1500.9 528.4 L1503.2 528.8 L1505.6 529.2 L1507.9 529.6 L1510.2 530.0 L1512.6 530.4 L1514.9 530.8 L1517.2 531.1 L1519.5 531.5 L1521.9 531.8 L1524.2 532.1 L1526.5 532.4 L1528.9 532.7 L1531.2 533.0 L1533.5 533.3 L1535.9 533.5 L1538.2 533.8 L1540.5 534.0 L1542.9 534.2 L1545.2 534.4 L1547.5 534.6 L1549.8 534.8 L1552.2 535.0 L1554.5 535.2 L1556.8 535.4 L1559.2 535.6 L1561.5 535.8 L1563.8 535.9 L1566.2 536.1 L1568.5 536.2 L1570.8 536.4 L1573.1 536.5 L1575.5 536.7 L1577.8 536.8 L1580.1 536.9 L1582.5 537.0 L1584.8 537.1 L1587.1 537.2 L1589.5 537.3 L1591.8 537.4 L1594.1 537.5 L1596.5 537.5 L1598.8 537.6 L1601.1 537.7 L1603.4 537.7 L1605.8 537.8 L1608.1 537.9 L1610.4 537.9 L1612.8 538.0 L1615.1 538.0 L1617.4 538.1 L1619.8 538.1 L1622.1 538.2 L1624.4 538.2 L1626.7 538.2 L1629.1 538.3 L1631.4 538.3 L1633.7 538.3 L1636.1 538.4 L1638.4 538.4 L1640.7 538.4 L1643.1 538.4 L1645.4 538.4 L1647.7 538.4" stroke="#ff00ff"/>
<path d="M948.6 129.1 L950.9 129.1 L953.3 129.1 L955.6 129.1 L957.9 129.2 L960.3 129.2 L962.6 129.3 L964.9 129.3 L967.2 129.4 L969.6 129.4 L971.9 129.5 L974.2 129.6 L976.6 129.7 L978.9 129.8 L981.2 129.9 L983.6 130.1 L985.9 130.3 L988.2 130.6 L990.5 130.9 L992.9 131.2 L995.2 131.7 L997.5 132.4 L999.9 133.3 L1002.2 134.6 L1004.5 136.2 L1006.9 138.1 L1009.2 140.2 L1011.5 142.6 L1013.9 145.7 L1016.2 149.4 L1018.5 153.7 L1020.8 158.4 L1023.2 163.6 L1025.5 169.2 L1027.8 175.0 L1030.2 180.9 L1032.5 186.7 L1034.8 192.7 L1037.2 198.8 L1039.5 205.6 L1041.8 213.1 L1044.1 221.9 L1046.5 232.1 L1048.8 243.6 L1051.1 255.9 L1053.5 268.7 L1055.8 281.1 L1058.1 291.8 L1060.5 300.5 L1062.8 307.9 L1065.1 314.6 L1067.5 320.8 L1069.8 326.5 L1072.1 332.0 L1074.4 337.3 L1076.8 342.8 L1079.1 348.6 L1081.4 354.7 L1083.8 361.1 L1086.1 367.3 L1088.4 372.9 L1090.8 377.9 L1093.1 382.3 L1095.4 386.3 L1097.7 389.9 L1100.1 393.1 L1102.4 396.0 L1104.7 398.7 L1107.1 401.0 L1109.4 403.2 L1111.7 405.1 L1114.1 406.9 L1116.4 408.4 L1118.7 409.7 L1121.0 410.9 L1123.4 412.0 L1125.7 412.9 L1128.0 413.7 L1130.4 414.4 L1132.7 415.0 L1135.0 415.5 L1137.4 416.1 L1139.7 416.6 L1142.0 417.1 L1144.4 417.5 L1146.7 418.0 L1149.0 418.5 L1151.3 418.9 L1153.7 419.4 L1156.0 419.7 L1158.3 420.1 L1160.7 420.3 L1163.0 420.5 L1165.3 420.6 L1167.7 420.6 L1170.0 420.5 L1172.3 420.3 L1174.6 420.1 L1177.0 419.8 L1179.3 419.4 L1181.6 418.9 L1184.0 418.5 L1186.3 418.0 L1188.6 417.5 L1191.0 417.0 L1193.3 416.5 L1195.6 416.0 L1198.0 415.4 L1200.3 414.9 L1202.6 414.4 L1204.9 413.9 L1207.3 413.5 L1209.6 413.0 L1211.9 412.6 L1214.3 412.3 L1216.6 412.0 L1218.9 411.7 L1221.3 411.5 L1223.6 411.3 L1225.9 411.1 L1228.2 411.0 L1230.6 410.9 L1232.9 410.9 L1235.2 410.8 L1237.6 410.9 L1239.9 410.9 L1242.2 411.1 L1244.6 411.3 L1246.9 411.6 L1249.2 412.0 L1251.6 412.6 L1253.9 413.4 L1256.2 414.4 L1258.5 415.6 L1260.9 417.1 L1263.2 418.8 L1265.5 420.8 L1267.9 423.0 L1270.2 425.4 L1272.5 428.1 L1274.9 430.8 L1277.2 433.6 L1279.5 436.6 L1281.8 439.5 L1284.2 442.4 L1286.5 445.3 L1288.8 448.1 L1291.2 450.8 L1293.5 453.3 L1295.8 455.8 L1298.2 458.1 L1300.5 460.3 L1302.8 462.4 L1305.2 464.3 L1307.5 466.2 L1309.8 467.9 L1312.1 469.5 L1314.5 471.0 L1316.8 472.4 L1319.1 473.7 L1321.5 475.0 L1323.8 476.1 L1326.1 477.2 L1328.5 478.1 L1330.8 479.1 L1333.1 479.9 L1335.4 480.7 L1337.8 481.5 L1340.1 482.2 L1342.4 482.9 L1344.8 483.6 L1347.1 484.4 L1349.4 485.1 L1351.8 485.7 L1354.1 486.4 L1356.4 487.1 L1358.8 487.8 L1361.1 488.5 L1363.4 489.1 L1365.7 489.8 L1368.1 490.4 L1370.4 491.0 L1372.7 491.6 L1375.1 492.2 L1377.4 492.8 L1379.7 493.4 L1382.1 494.0 L1384.4 494.6 L1386.7 495.2 L1389.0 495.8 L1391.4 496.5 L1393.7 497.1 L1396.0 497.7 L1398.4 498.4 L1400.7 499.1 L1403.0 499.7 L1405.4 500.4 L1407.7 501.1 L1410.0 501.8 L1412.3 502.4 L1414.7 503.1 L1417.0 503.8 L1419.3 504.4 L1421.7 505.1 L1424.0 505.7 L1426.3 506.3 L1428.7 507.0 L1431.0 507.6 L1433.3 508.2 L1435.7 508.8 L1438.0 509.5 L1440.3 510.1 L1442.6 510.7 L1445.0 511.4 L1447.3 512.0 L1449.6 512.7 L1452.0 513.4 L1454.3 514.1 L1456.6 514.8 L1459.0 515.5 L1461.3 516.2 L1463.6 517.0 L1465.9 517.7 L1468.3 518.5 L1470.6 519.2 L1472.9 519.9 L1475.3 520.6 L1477.6 521.3 L1479.9 522.0 L1482.3 522.7 L1484.6 523.3 L1486.9 523.9 L1489.3 524.5 L1491.6 525.0 L1493.9 525.6 L1496.2 526.1 L1498.6 526.6 L1500.9 527.0 L1503.2 527.5 L1505.6 528.0 L1507.9 528.4 L1510.2 528.8 L1512.6 529.3 L1514.9 529.7 L1517.2 530.1 L1519.5 530.4 L1521.9 530.8 L1524.2 531.1 L1526.5 531.5 L1528.9 531.8 L1531.2 532.1 L1533.5 532.4 L1535.9 532.7 L1538.2 533.0 L1540.5 533.2 L1542.9 533.5 L1545.2 533.7 L1547.5 533.9 L1549.8 534.1 L1552.2 534.3 L1554.5 534.5 L1556.8 534.7 L1559.2 534.9 L1561.5 535.1 L1563.8 535.3 L1566.2 535.5 L1568.5 535.6 L1570.8 535.8 L1573.1 535.9 L1575.5 536.1 L1577.8 536.2 L1580.1 536.3 L1582.5 536.5 L1584.8 536.6 L1587.1 536.7 L1589.5 536.8 L1591.8 536.9 L1594.1 537.0 L1596.5 537.0 L1598.8 537.1 L1601.1 537.2 L1603.4 537.3 L1605.8 537.4 L1608.1 537.4 L1610.4 537.5 L1612.8 537.6 L1615.1 537.6 L1617.4 537.7 L1619.8 537.8 L1622.1 537.8 L1624.4 537.9 L1626.7 537.9 L1629.1 538.0 L1631.4 538.0 L1633.7 538.1 L1636.1 538.1 L1638.4 538.1 L1640.7 538.1 L1643.1 538.1 L1645.4 538.2 L1647.7 538.2" stroke="#808000"/>
<path d="M948.6 128.6 L950.9 128.6 L953.3 128.6 L955.6 128.6 L957.9 128.7 L960.3 128.7 L962.6 128.7 L964.9 128.8 L967.2 128.8 L969.6 128.9 L971.9 129.0 L974.2 129.1 L976.6 129.1 L978.9 129.2 L981.2 129.4 L983.6 129.5 L985.9 129.7 L988.2 130.0 L990.5 130.3 L992.9 130.6 L995.2 131.1 L997.5 131.6 L999.9 132.5 L1002.2 133.7 L1004.5 135.2 L1006.9 137.1 L1009.2 139.1 L1011.5 141.5 L1013.9 144.3 L1016.2 147.7 L1018.5 151.7 L1020.8 156.2 L1023.2 161.2 L1025.5 166.6 L1027.8 172.4 L1030.2 178.3 L1032.5 184.2 L1034.8 190.0 L1037.2 196.0 L1039.5 202.5 L1041.8 209.8 L1044.1 218.3 L1046.5 228.6 L1048.8 240.5 L1051.1 253.3 L1053.5 266.7 L1055.8 279.6 L1058.1 290.8 L1060.5 299.9 L1062.8 307.5 L1065.1 314.1 L1067.5 320.3 L1069.8 325.9 L1072.1 331.2 L1074.4 336.3 L1076.8 341.5 L1079.1 346.9 L1081.4 352.7 L1083.8 358.8 L1086.1 364.8 L1088.4 370.4 L1090.8 375.4 L1093.1 379.8 L1095.4 383.8 L1097.7 387.4 L1100.1 390.6 L1102.4 393.5 L1104.7 395.9 L1107.1 398.1 L1109.4 400.1 L1111.7 401.8 L1114.1 403.4 L1116.4 404.8 L1118.7 406.1 L1121.0 407.2 L1123.4 408.2 L1125.7 409.1 L1128.0 409.9 L1130.4 410.6 L1132.7 411.2 L1135.0 411.8 L1137.4 412.3 L1139.7 412.7 L1142.0 413.1 L1144.4 413.5 L1146.7 413.8 L1149.0 414.1 L1151.3 414.4 L1153.7 414.6 L1156.0 414.8 L1158.3 414.9 L1160.7 415.0 L1163.0 415.1 L1165.3 415.0 L1167.7 414.9 L1170.0 414.7 L1172.3 414.3 L1174.6 413.9 L1177.0 413.4 L1179.3 412.9 L1181.6 412.2 L1184.0 411.6 L1186.3 410.9 L1188.6 410.2 L1191.0 409.4 L1193.3 408.7 L1195.6 407.9 L1198.0 407.2 L1200.3 406.4 L1202.6 405.7 L1204.9 405.0 L1207.3 404.3 L1209.6 403.6 L1211.9 403.0 L1214.3 402.5 L1216.6 402.0 L1218.9 401.5 L1221.3 401.1 L1223.6 400.7 L1225.9 400.4 L1228.2 400.1 L1230.6 399.9 L1232.9 399.7 L1235.2 399.5 L1237.6 399.4 L1239.9 399.4 L1242.2 399.5 L1244.6 399.6 L1246.9 399.9 L1249.2 400.3 L1251.6 400.9 L1253.9 401.7 L1256.2 402.7 L1258.5 404.0 L1260.9 405.5 L1263.2 407.2 L1265.5 409.1 L1267.9 411.3 L1270.2 413.6 L1272.5 416.1 L1274.9 418.8 L1277.2 421.6 L1279.5 424.5 L1281.8 427.5 L1284.2 430.6 L1286.5 433.7 L1288.8 436.8 L1291.2 439.8 L1293.5 442.7 L1295.8 445.6 L1298.2 448.3 L1300.5 451.0 L1302.8 453.5 L1305.2 455.9 L1307.5 458.1 L1309.8 460.3 L1312.1 462.3 L1314.5 464.2 L1316.8 466.0 L1319.1 467.6 L1321.5 469.2 L1323.8 470.6 L1326.1 471.9 L1328.5 473.1 L1330.8 474.3 L1333.1 475.3 L1335.4 476.3 L1337.8 477.2 L1340.1 478.1 L1342.4 478.9 L1344.8 479.7 L1347.1 480.5 L1349.4 481.2 L1351.8 481.9 L1354.1 482.6 L1356.4 483.3 L1358.8 484.0 L1361.1 484.7 L1363.4 485.4 L1365.7 486.1 L1368.1 486.8 L1370.4 487.5 L1372.7 488.2 L1375.1 488.9 L1377.4 489.6 L1379.7 490.4 L1382.1 491.1 L1384.4 491.8 L1386.7 492.5 L1389.0 493.2 L1391.4 493.9 L1393.7 494.6 L1396.0 495.3 L1398.4 496.0 L1400.7 496.6 L1403.0 497.3 L1405.4 498.0 L1407.7 498.6 L1410.0 499.3 L1412.3 499.9 L1414.7 500.6 L1417.0 501.2 L1419.3 501.8 L1421.7 502.5 L1424.0 503.1 L1426.3 503.7 L1428.7 504.3 L1431.0 504.9 L1433.3 505.6 L1435.7 506.2 L1438.0 506.8 L1440.3 507.5 L1442.6 508.1 L1445.0 508.8 L1447.3 509.5 L1449.6 510.2 L1452.0 510.9 L1454.3 511.6 L1456.6 512.4 L1459.0 513.2 L1461.3 514.0 L1463.6 514.9 L1465.9 515.7 L1468.3 516.5 L1470.6 517.4 L1472.9 518.2 L1475.3 519.0 L1477.6 519.8 L1479.9 520.6 L1482.3 521.3 L1484.6 522.0 L1486.9 522.7 L1489.3 523.4 L1491.6 524.0 L1493.9 524.6 L1496.2 525.1 L1498.6 525.6 L1500.9 526.2 L1503.2 526.7 L1505.6 527.1 L1507.9 527.6 L1510.2 528.1 L1512.6 528.5 L1514.9 528.9 L1517.2 529.4 L1519.5 529.8 L1521.9 530.1 L1524.2 530.5 L1526.5 530.9 L1528.9 531.2 L1531.2 531.5 L1533.5 531.8 L1535.9 532.1 L1538.2 532.4 L1540.5 532.7 L1542.9 533.0 L1545.2 533.2 L1547.5 533.4 L1549.8 533.7 L1552.2 533.9 L1554.5 534.1 L1556.8 534.3 L1559.2 534.5 L1561.5 534.7 L1563.8 534.9 L1566.2 535.1 L1568.5 535.3 L1570.8 535.5 L1573.1 535.6 L1575.5 535.8 L1577.8 535.9 L1580.1 536.0 L1582.5 536.2 L1584.8 536.3 L1587.1 536.4 L1589.5 536.5 L1591.8 536.6 L1594.1 536.7 L1596.5 536.8 L1598.8 536.9 L1601.1 537.0 L1603.4 537.0 L1605.8 537.1 L1608.1 537.2 L1610.4 537.3 L1612.8 537.3 L1615.1 537.4 L1617.4 537.5 L1619.8 537.5 L1622.1 537.6 L1624.4 537.6 L1626.7 537.7 L1629.1 537.7 L1631.4 537.8 L1633.7 537.8 L1636.1 537.8 L1638.4 537.9 L1640.7 537.9 L1643.1 537.9 L1645.4 537.9 L1647.7 537.9" stroke="#000080"/>
<path d="M948.6 129.1 L950.9 129.1 L953.3 129.1 L955.6 129.1 L957.9 129.2 L960.3 129.2 L962.6 129.3 L964.9 129.3 L967.2 129.4 L969.6 129.4 L971.9 129.5 L974.2 129.6 L976.6 129.6 L978.9 129.7 L981.2 129.8 L983.6 130.0 L985.9 130.2 L988.2 130.4 L990.5 130.7 L992.9 131.1 L995.2 131.5 L997.5 132.0 L999.9 132.6 L1002.2 133.6 L1004.5 134.9 L1006.9 136.4 L1009.2 138.2 L1011.5 140.3 L1013.9 142.7 L1016.2 145.7 L1018.5 149.4 L1020.8 153.6 L1023.2 158.4 L1025.5 163.6 L1027.8 169.3 L1030.2 175.1 L1032.5 181.1 L1034.8 186.9 L1037.2 192.8 L1039.5 199.0 L1041.8 205.8 L1044.1 214.0 L1046.5 224.1 L1048.8 236.3 L1051.1 249.9 L1053.5 264.0 L1055.8 277.7 L1058.1 289.5 L1060.5 299.0 L1062.8 306.8 L1065.1 313.6 L1067.5 319.7 L1069.8 325.3 L1072.1 330.4 L1074.4 335.4 L1076.8 340.3 L1079.1 345.5 L1081.4 351.0 L1083.8 356.7 L1086.1 362.5 L1088.4 368.0 L1090.8 372.9 L1093.1 377.2 L1095.4 381.0 L1097.7 384.5 L1100.1 387.5 L1102.4 390.2 L1104.7 392.4 L1107.1 394.3 L1109.4 396.0 L1111.7 397.6 L1114.1 398.9 L1116.4 400.2 L1118.7 401.3 L1121.0 402.3 L1123.4 403.2 L1125.7 404.0 L1128.0 404.7 L1130.4 405.2 L1132.7 405.7 L1135.0 406.2 L1137.4 406.6 L1139.7 407.0 L1142.0 407.3 L1144.4 407.6 L1146.7 408.0 L1149.0 408.3 L1151.3 408.5 L1153.7 408.8 L1156.0 409.0 L1158.3 409.1 L1160.7 409.2 L1163.0 409.3 L1165.3 409.2 L1167.7 409.0 L1170.0 408.7 L1172.3 408.3 L1174.6 407.8 L1177.0 407.1 L1179.3 406.4 L1181.6 405.5 L1184.0 404.7 L1186.3 403.8 L1188.6 402.8 L1191.0 401.9 L1193.3 400.9 L1195.6 399.9 L1198.0 398.9 L1200.3 398.0 L1202.6 397.0 L1204.9 396.1 L1207.3 395.1 L1209.6 394.3 L1211.9 393.4 L1214.3 392.7 L1216.6 392.0 L1218.9 391.3 L1221.3 390.7 L1223.6 390.2 L1225.9 389.7 L1228.2 389.3 L1230.6 388.9 L1232.9 388.6 L1235.2 388.3 L1237.6 388.1 L1239.9 388.0 L1242.2 388.0 L1244.6 388.0 L1246.9 388.2 L1249.2 388.4 L1251.6 388.9 L1253.9 389.6 L1256.2 390.5 L1258.5 391.7 L1260.9 393.2 L1263.2 395.0 L1265.5 397.1 L1267.9 399.4 L1270.2 402.0 L1272.5 404.8 L1274.9 407.9 L1277.2 411.0 L1279.5 414.3 L1281.8 417.6 L1284.2 421.0 L1286.5 424.3 L1288.8 427.7 L1291.2 430.9 L1293.5 434.1 L1295.8 437.2 L1298.2 440.2 L1300.5 443.1 L1302.8 445.9 L1305.2 448.5 L1307.5 451.0 L1309.8 453.4 L1312.1 455.7 L1314.5 457.8 L1316.8 459.8 L1319.1 461.7 L1321.5 463.4 L1323.8 465.0 L1326.1 466.5 L1328.5 467.8 L1330.8 469.1 L1333.1 470.2 L1335.4 471.2 L1337.8 472.2 L1340.1 473.1 L1342.4 474.0 L1344.8 474.8 L1347.1 475.5 L1349.4 476.3 L1351.8 477.0 L1354.1 477.7 L1356.4 478.3 L1358.8 479.0 L1361.1 479.7 L1363.4 480.4 L1365.7 481.0 L1368.1 481.7 L1370.4 482.4 L1372.7 483.1 L1375.1 483.8 L1377.4 484.5 L1379.7 485.2 L1382.1 485.9 L1384.4 486.6 L1386.7 487.3 L1389.0 488.1 L1391.4 488.8 L1393.7 489.6 L1396.0 490.3 L1398.4 491.1 L1400.7 491.9 L1403.0 492.6 L1405.4 493.4 L1407.7 494.2 L1410.0 495.0 L1412.3 495.7 L1414.7 496.5 L1417.0 497.3 L1419.3 498.0 L1421.7 498.8 L1424.0 499.5 L1426.3 500.2 L1428.7 500.9 L1431.0 501.7 L1433.3 502.4 L1435.7 503.1 L1438.0 503.8 L1440.3 504.6 L1442.6 505.3 L1445.0 506.1 L1447.3 506.8 L1449.6 507.6 L1452.0 508.4 L1454.3 509.3 L1456.6 510.1 L1459.0 511.0 L1461.3 511.8 L1463.6 512.7 L1465.9 513.6 L1468.3 514.5 L1470.6 515.4 L1472.9 516.3 L1475.3 517.2 L1477.6 518.0 L1479.9 518.8 L1482.3 519.6 L1484.6 520.4 L1486.9 521.1 L1489.3 521.8 L1491.6 522.4 L1493.9 523.1 L1496.2 523.7 L1498.6 524.3 L1500.9 524.9 L1503.2 525.4 L1505.6 525.9 L1507.9 526.5 L1510.2 527.0 L1512.6 527.5 L1514.9 528.0 L1517.2 528.4 L1519.5 528.9 L1521.9 529.3 L1524.2 529.7 L1526.5 530.1 L1528.9 530.5 L1531.2 530.9 L1533.5 531.2 L1535.9 531.6 L1538.2 531.9 L1540.5 532.2 L1542.9 532.4 L1545.2 532.7 L1547.5 533.0 L1549.8 533.2 L1552.2 533.5 L1554.5 533.7 L1556.8 533.9 L1559.2 534.1 L1561.5 534.3 L1563.8 534.5 L1566.2 534.7 L1568.5 534.9 L1570.8 535.1 L1573.1 535.3 L1575.5 535.4 L1577.8 535.6 L1580.1 535.7 L1582.5 535.9 L1584.8 536.0 L1587.1 536.1 L1589.5 536.2 L1591.8 536.4 L1594.1 536.5 L1596.5 536.6 L1598.8 536.7 L1601.1 536.8 L1603.4 536.8 L1605.8 536.9 L1608.1 537.0 L1610.4 537.1 L1612.8 537.2 L1615.1 537.3 L1617.4 537.3 L1619.8 537.4 L1622.1 537.5 L1624.4 537.6 L1626.7 537.6 L1629.1 537.7 L1631.4 537.7 L1633.7 537.8 L1636.1 537.8 L1638.4 537.8 L1640.7 537.9 L1643.1 537.9 L1645.4 537.9 L1647.7 537.9" stroke="#800000"/>
<path d="M948.6 128.1 L950.9 128.1 L953.3 128.1 L955.6 128.1 L957.9 128.1 L960.3 128.2 L962.6 128.2 L964.9 128.3 L967.2 128.3 L969.6 128.4 L971.9 128.4 L974.2 128.5 L976.6 128.6 L978.9 128.7 L981.2 128.8 L983.6 128.9 L985.9 129.1 L988.2 129.3 L990.5 129.6 L992.9 129.9 L995.2 130.3 L997.5 130.8 L999.9 131.4 L1002.2 132.3 L1004.5 133.5 L1006.9 135.1 L1009.2 137.0 L1011.5 139.2 L1013.9 141.5 L1016.2 144.3 L1018.5 147.7 L1020.8 151.7 L1023.2 156.1 L1025.5 161.2 L1027.8 166.7 L1030.2 172.5 L1032.5 178.5 L1034.8 184.3 L1037.2 190.1 L1039.5 196.1 L1041.8 202.7 L1044.1 210.4 L1046.5 220.1 L1048.8 232.4 L1051.1 246.6 L1053.5 261.5 L1055.8 275.9 L1058.1 288.4 L1060.5 298.3 L1062.8 306.3 L1065.1 313.1 L1067.5 319.2 L1069.8 324.7 L1072.1 329.8 L1074.4 334.5 L1076.8 339.2 L1079.1 344.1 L1081.4 349.3 L1083.8 354.8 L1086.1 360.4 L1088.4 365.7 L1090.8 370.5 L1093.1 374.7 L1095.4 378.3 L1097.7 381.6 L1100.1 384.4 L1102.4 386.9 L1104.7 389.0 L1107.1 390.8 L1109.4 392.4 L1111.7 393.9 L1114.1 395.1 L1116.4 396.3 L1118.7 397.3 L1121.0 398.1 L1123.4 398.9 L1125.7 399.5 L1128.0 399.9 L1130.4 400.3 L1132.7 400.7 L1135.0 400.9 L1137.4 401.1 L1139.7 401.2 L1142.0 401.2 L1144.4 401.2 L1146.7 401.1 L1149.0 401.0 L1151.3 400.8 L1153.7 400.6 L1156.0 400.3 L1158.3 400.0 L1160.7 399.6 L1163.0 399.2 L1165.3 398.6 L1167.7 397.9 L1170.0 397.2 L1172.3 396.3 L1174.6 395.2 L1177.0 394.1 L1179.3 392.9 L1181.6 391.6 L1184.0 390.3 L1186.3 388.9 L1188.6 387.6 L1191.0 386.2 L1193.3 384.9 L1195.6 383.6 L1198.0 382.3 L1200.3 381.1 L1202.6 379.8 L1204.9 378.7 L1207.3 377.5 L1209.6 376.4 L1211.9 375.4 L1214.3 374.4 L1216.6 373.5 L1218.9 372.6 L1221.3 371.8 L1223.6 371.1 L1225.9 370.4 L1228.2 369.8 L1230.6 369.3 L1232.9 368.8 L1235.2 368.4 L1237.6 368.1 L1239.9 367.9 L1242.2 367.8 L1244.6 367.8 L1246.9 367.9 L1249.2 368.3 L1251.6 368.8 L1253.9 369.7 L1256.2 370.8 L1258.5 372.2 L1260.9 374.0 L1263.2 376.0 L1265.5 378.4 L1267.9 381.1 L1270.2 383.9 L1272.5 387.0 L1274.9 390.2 L1277.2 393.5 L1279.5 396.9 L1281.8 400.3 L1284.2 403.8 L1286.5 407.3 L1288.8 410.8 L1291.2 414.3 L1293.5 417.8 L1295.8 421.2 L1298.2 424.6 L1300.5 427.9 L1302.8 431.0 L1305.2 434.1 L1307.5 436.9 L1309.8 439.6 L1312.1 442.2 L1314.5 444.5 L1316.8 446.7 L1319.1 448.7 L1321.5 450.5 L1323.8 452.3 L1326.1 453.9 L1328.5 455.3 L1330.8 456.7 L1333.1 458.1 L1335.4 459.3 L1337.8 460.4 L1340.1 461.5 L1342.4 462.6 L1344.8 463.5 L1347.1 464.4 L1349.4 465.3 L1351.8 466.2 L1354.1 467.0 L1356.4 467.8 L1358.8 468.6 L1361.1 469.4 L1363.4 470.2 L1365.7 471.0 L1368.1 471.8 L1370.4 472.6 L1372.7 473.4 L1375.1 474.2 L1377.4 475.0 L1379.7 475.8 L1382.1 476.6 L1384.4 477.5 L1386.7 478.3 L1389.0 479.2 L1391.4 480.0 L1393.7 480.9 L1396.0 481.7 L1398.4 482.6 L1400.7 483.5 L1403.0 484.4 L1405.4 485.3 L1407.7 486.1 L1410.0 487.0 L1412.3 488.0 L1414.7 488.9 L1417.0 489.8 L1419.3 490.7 L1421.7 491.6 L1424.0 492.6 L1426.3 493.5 L1428.7 494.5 L1431.0 495.4 L1433.3 496.4 L1435.7 497.4 L1438.0 498.3 L1440.3 499.3 L1442.6 500.3 L1445.0 501.3 L1447.3 502.3 L1449.6 503.3 L1452.0 504.3 L1454.3 505.3 L1456.6 506.3 L1459.0 507.4 L1461.3 508.4 L1463.6 509.5 L1465.9 510.5 L1468.3 511.6 L1470.6 512.6 L1472.9 513.6 L1475.3 514.6 L1477.6 515.6 L1479.9 516.5 L1482.3 517.4 L1484.6 518.3 L1486.9 519.1 L1489.3 519.9 L1491.6 520.6 L1493.9 521.3 L1496.2 522.0 L1498.6 522.7 L1500.9 523.3 L1503.2 523.9 L1505.6 524.5 L1507.9 525.1 L1510.2 525.7 L1512.6 526.2 L1514.9 526.8 L1517.2 527.3 L1519.5 527.8 L1521.9 528.3 L1524.2 528.7 L1526.5 529.1 L1528.9 529.6 L1531.2 530.0 L1533.5 530.3 L1535.9 530.7 L1538.2 531.1 L1540.5 531.4 L1542.9 531.7 L1545.2 532.0 L1547.5 532.3 L1549.8 532.6 L1552.2 532.8 L1554.5 533.1 L1556.8 533.4 L1559.2 533.6 L1561.5 533.8 L1563.8 534.1 L1566.2 534.3 L1568.5 534.5 L1570.8 534.7 L1573.1 534.9 L1575.5 535.1 L1577.8 535.3 L1580.1 535.4 L1582.5 535.6 L1584.8 535.7 L1587.1 535.8 L1589.5 536.0 L1591.8 536.1 L1594.1 536.2 L1596.5 536.3 L1598.8 536.4 L1601.1 536.5 L1603.4 536.6 L1605.8 536.7 L1608.1 536.8 L1610.4 536.9 L1612.8 536.9 L1615.1 537.0 L1617.4 537.1 L1619.8 537.2 L1622.1 537.2 L1624.4 537.3 L1626.7 537.4 L1629.1 537.4 L1631.4 537.5 L1633.7 537.5 L1636.1 537.5 L1638.4 537.6 L1640.7 537.6 L1643.1 537.6 L1645.4 537.6 L1647.7 537.7" stroke="#ff0080"/>
<path d="M948.6 126.5 L950.9 126.5 L953.3 126.5 L955.6 126.6 L957.9 126.6 L960.3 126.6 L962.6 126.7 L964.9 126.7 L967.2 126.8 L969.6 126.8 L971.9 126.9 L974.2 126.9 L976.6 127.0 L978.9 127.1 L981.2 127.2 L983.6 127.3 L985.9 127.5 L988.2 127.7 L990.5 128.0 L992.9 128.3 L995.2 128.7 L997.5 129.1 L999.9 129.7 L1002.2 130.6 L1004.5 131.9 L1006.9 133.6 L1009.2 135.6 L1011.5 137.9 L1013.9 140.5 L1016.2 143.3 L1018.5 146.5 L1020.8 150.2 L1023.2 154.5 L1025.5 159.3 L1027.8 164.6 L1030.2 170.4 L1032.5 176.4 L1034.8 182.3 L1037.2 188.1 L1039.5 193.9 L1041.8 200.2 L1044.1 207.5 L1046.5 216.8 L1048.8 229.0 L1051.1 243.7 L1053.5 259.3 L1055.8 274.4 L1058.1 287.4 L1060.5 297.7 L1062.8 305.9 L1065.1 312.8 L1067.5 318.9 L1069.8 324.3 L1072.1 329.2 L1074.4 333.8 L1076.8 338.3 L1079.1 342.9 L1081.4 347.8 L1083.8 352.9 L1086.1 358.2 L1088.4 363.3 L1090.8 367.9 L1093.1 372.0 L1095.4 375.6 L1097.7 378.8 L1100.1 381.5 L1102.4 383.8 L1104.7 385.6 L1107.1 387.2 L1109.4 388.5 L1111.7 389.7 L1114.1 390.7 L1116.4 391.6 L1118.7 392.4 L1121.0 393.1 L1123.4 393.7 L1125.7 394.2 L1128.0 394.6 L1130.4 394.9 L1132.7 395.1 L1135.0 395.3 L1137.4 395.4 L1139.7 395.5 L1142.0 395.5 L1144.4 395.4 L1146.7 395.3 L1149.0 395.1 L1151.3 394.8 L1153.7 394.5 L1156.0 394.1 L1158.3 393.6 L1160.7 393.1 L1163.0 392.4 L1165.3 391.7 L1167.7 390.8 L1170.0 389.8 L1172.3 388.6 L1174.6 387.3 L1177.0 385.9 L1179.3 384.4 L1181.6 382.8 L1184.0 381.2 L1186.3 379.5 L1188.6 377.9 L1191.0 376.3 L1193.3 374.8 L1195.6 373.3 L1198.0 371.9 L1200.3 370.5 L1202.6 369.1 L1204.9 367.8 L1207.3 366.5 L1209.6 365.3 L1211.9 364.2 L1214.3 363.1 L1216.6 362.0 L1218.9 361.0 L1221.3 360.1 L1223.6 359.2 L1225.9 358.3 L1228.2 357.6 L1230.6 356.9 L1232.9 356.3 L1235.2 355.8 L1237.6 355.5 L1239.9 355.2 L1242.2 355.1 L1244.6 355.1 L1246.9 355.2 L1249.2 355.6 L1251.6 356.2 L1253.9 357.0 L1256.2 358.1 L1258.5 359.5 L1260.9 361.3 L1263.2 363.4 L1265.5 365.7 L1267.9 368.4 L1270.2 371.3 L1272.5 374.5 L1274.9 377.8 L1277.2 381.2 L1279.5 384.9 L1281.8 388.5 L1284.2 392.3 L1286.5 396.1 L1288.8 400.0 L1291.2 403.8 L1293.5 407.6 L1295.8 411.4 L1298.2 415.1 L1300.5 418.7 L1302.8 422.2 L1305.2 425.6 L1307.5 428.8 L1309.8 431.9 L1312.1 434.9 L1314.5 437.6 L1316.8 440.1 L1319.1 442.4 L1321.5 444.6 L1323.8 446.5 L1326.1 448.3 L1328.5 450.0 L1330.8 451.5 L1333.1 452.8 L1335.4 454.1 L1337.8 455.3 L1340.1 456.4 L1342.4 457.4 L1344.8 458.4 L1347.1 459.3 L1349.4 460.2 L1351.8 461.0 L1354.1 461.8 L1356.4 462.6 L1358.8 463.4 L1361.1 464.2 L1363.4 465.0 L1365.7 465.8 L1368.1 466.6 L1370.4 467.4 L1372.7 468.2 L1375.1 469.0 L1377.4 469.8 L1379.7 470.7 L1382.1 471.5 L1384.4 472.4 L1386.7 473.2 L1389.0 474.1 L1391.4 475.0 L1393.7 476.0 L1396.0 476.9 L1398.4 477.9 L1400.7 478.8 L1403.0 479.8 L1405.4 480.8 L1407.7 481.8 L1410.0 482.9 L1412.3 483.9 L1414.7 484.9 L1417.0 485.9 L1419.3 486.9 L1421.7 487.9 L1424.0 488.9 L1426.3 489.9 L1428.7 490.9 L1431.0 491.8 L1433.3 492.8 L1435.7 493.8 L1438.0 494.8 L1440.3 495.8 L1442.6 496.8 L1445.0 497.8 L1447.3 498.9 L1449.6 499.9 L1452.0 501.0 L1454.3 502.1 L1456.6 503.2 L1459.0 504.3 L1461.3 505.4 L1463.6 506.6 L1465.9 507.7 L1468.3 508.9 L1470.6 510.0 L1472.9 511.1 L1475.3 512.2 L1477.6 513.3 L1479.9 514.3 L1482.3 515.3 L1484.6 516.2 L1486.9 517.1 L1489.3 518.0 L1491.6 518.8 L1493.9 519.6 L1496.2 520.4 L1498.6 521.1 L1500.9 521.8 L1503.2 522.4 L1505.6 523.1 L1507.9 523.7 L1510.2 524.4 L1512.6 525.0 L1514.9 525.5 L1517.2 526.1 L1519.5 526.6 L1521.9 527.2 L1524.2 527.7 L1526.5 528.1 L1528.9 528.6 L1531.2 529.0 L1533.5 529.5 L1535.9 529.9 L1538.2 530.2 L1540.5 530.6 L1542.9 530.9 L1545.2 531.3 L1547.5 531.6 L1549.8 531.9 L1552.2 532.2 L1554.5 532.5 L1556.8 532.8 L1559.2 533.1 L1561.5 533.3 L1563.8 533.6 L1566.2 533.8 L1568.5 534.0 L1570.8 534.3 L1573.1 534.5 L1575.5 534.7 L1577.8 534.9 L1580.1 535.1 L1582.5 535.2 L1584.8 535.4 L1587.1 535.5 L1589.5 535.7 L1591.8 535.8 L1594.1 535.9 L1596.5 536.1 L1598.8 536.2 L1601.1 536.3 L1603.4 536.4 L1605.8 536.5 L1608.1 536.6 L1610.4 536.7 L1612.8 536.8 L1615.1 536.9 L1617.4 537.0 L1619.8 537.1 L1622.1 537.2 L1624.4 537.2 L1626.7 537.3 L1629.1 537.4 L1631.4 537.4 L1633.7 537.5 L1636.1 537.5 L1638.4 537.6 L1640.7 537.6 L1643.1 537.6 L1645.4 537.6 L1647.7 537.6" stroke="#008000"/>
<path d="M948.6 125.0 L950.9 125.0 L953.3 125.0 L955.6 125.0 L957.9 125.0 L960.3 125.1 L962.6 125.1 L964.9 125.1 L967.2 125.2 L969.6 125.2 L971.9 125.3 L974.2 125.4 L976.6 125.4 L978.9 125.5 L981.2 125.6 L983.6 125.7 L985.9 125.8 L988.2 126.0 L990.5 126.3 L992.9 126.6 L995.2 126.9 L997.5 127.4 L999.9 127.9 L1002.2 128.6 L1004.5 129.7 L1006.9 131.3 L1009.2 133.3 L1011.5 135.7 L1013.9 138.4 L1016.2 141.2 L1018.5 144.2 L1020.8 147.5 L1023.2 151.3 L1025.5 155.7 L1027.8 160.6 L1030.2 166.2 L1032.5 172.1 L1034.8 178.2 L1037.2 184.3 L1039.5 190.4 L1041.8 196.7 L1044.1 203.3 L1046.5 210.6 L1048.8 218.8 L1051.1 228.0 L1053.5 238.6 L1055.8 251.0 L1058.1 265.2 L1060.5 279.7 L1062.8 291.9 L1065.1 301.2 L1067.5 308.5 L1069.8 314.9 L1072.1 321.2 L1074.4 327.6 L1076.8 334.0 L1079.1 340.3 L1081.4 346.1 L1083.8 351.7 L1086.1 356.9 L1088.4 361.6 L1090.8 365.8 L1093.1 369.5 L1095.4 372.6 L1097.7 375.4 L1100.1 377.9 L1102.4 380.1 L1104.7 382.0 L1107.1 383.7 L1109.4 385.0 L1111.7 386.2 L1114.1 387.1 L1116.4 387.8 L1118.7 388.3 L1121.0 388.8 L1123.4 389.1 L1125.7 389.4 L1128.0 389.5 L1130.4 389.5 L1132.7 389.4 L1135.0 389.3 L1137.4 389.0 L1139.7 388.7 L1142.0 388.3 L1144.4 387.8 L1146.7 387.3 L1149.0 386.7 L1151.3 386.0 L1153.7 385.3 L1156.0 384.5 L1158.3 383.7 L1160.7 382.7 L1163.0 381.7 L1165.3 380.6 L1167.7 379.4 L1170.0 378.1 L1172.3 376.7 L1174.6 375.2 L1177.0 373.7 L1179.3 372.0 L1181.6 370.4 L1184.0 368.7 L1186.3 367.0 L1188.6 365.3 L1191.0 363.6 L1193.3 361.9 L1195.6 360.2 L1198.0 358.6 L1200.3 357.0 L1202.6 355.4 L1204.9 353.9 L1207.3 352.4 L1209.6 351.0 L1211.9 349.6 L1214.3 348.3 L1216.6 347.1 L1218.9 345.9 L1221.3 344.8 L1223.6 343.8 L1225.9 342.8 L1228.2 342.0 L1230.6 341.2 L1232.9 340.5 L1235.2 339.9 L1237.6 339.4 L1239.9 339.0 L1242.2 338.8 L1244.6 338.7 L1246.9 338.8 L1249.2 339.1 L1251.6 339.6 L1253.9 340.4 L1256.2 341.6 L1258.5 343.1 L1260.9 344.8 L1263.2 346.9 L1265.5 349.4 L1267.9 352.0 L1270.2 355.0 L1272.5 358.2 L1274.9 361.6 L1277.2 365.1 L1279.5 368.8 L1281.8 372.7 L1284.2 376.6 L1286.5 380.6 L1288.8 384.5 L1291.2 388.5 L1293.5 392.4 L1295.8 396.3 L1298.2 400.2 L1300.5 404.0 L1302.8 407.9 L1305.2 411.8 L1307.5 415.7 L1309.8 419.6 L1312.1 423.3 L1314.5 426.8 L1316.8 430.2 L1319.1 433.3 L1321.5 436.1 L1323.8 438.7 L1326.1 441.1 L1328.5 443.2 L1330.8 445.1 L1333.1 446.8 L1335.4 448.3 L1337.8 449.7 L1340.1 451.0 L1342.4 452.1 L1344.8 453.2 L1347.1 454.2 L1349.4 455.1 L1351.8 456.0 L1354.1 456.8 L1356.4 457.7 L1358.8 458.5 L1361.1 459.3 L1363.4 460.1 L1365.7 460.9 L1368.1 461.6 L1370.4 462.4 L1372.7 463.3 L1375.1 464.1 L1377.4 464.9 L1379.7 465.7 L1382.1 466.5 L1384.4 467.4 L1386.7 468.2 L1389.0 469.1 L1391.4 470.0 L1393.7 470.9 L1396.0 471.8 L1398.4 472.8 L1400.7 473.7 L1403.0 474.7 L1405.4 475.7 L1407.7 476.8 L1410.0 477.8 L1412.3 478.8 L1414.7 479.9 L1417.0 481.0 L1419.3 482.1 L1421.7 483.2 L1424.0 484.4 L1426.3 485.6 L1428.7 486.7 L1431.0 487.9 L1433.3 489.2 L1435.7 490.4 L1438.0 491.7 L1440.3 492.9 L1442.6 494.2 L1445.0 495.5 L1447.3 496.9 L1449.6 498.2 L1452.0 499.6 L1454.3 500.9 L1456.6 502.3 L1459.0 503.6 L1461.3 504.9 L1463.6 506.3 L1465.9 507.6 L1468.3 508.9 L1470.6 510.1 L1472.9 511.4 L1475.3 512.6 L1477.6 513.9 L1479.9 515.0 L1482.3 516.2 L1484.6 517.3 L1486.9 518.4 L1489.3 519.5 L1491.6 520.5 L1493.9 521.5 L1496.2 522.5 L1498.6 523.4 L1500.9 524.3 L1503.2 525.1 L1505.6 526.0 L1507.9 526.7 L1510.2 527.5 L1512.6 528.2 L1514.9 528.9 L1517.2 529.5 L1519.5 530.1 L1521.9 530.7 L1524.2 531.2 L1526.5 531.8 L1528.9 532.2 L1531.2 532.7 L1533.5 533.1 L1535.9 533.5 L1538.2 533.8 L1540.5 534.1 L1542.9 534.4 L1545.2 534.6 L1547.5 534.9 L1549.8 535.1 L1552.2 535.3 L1554.5 535.5 L1556.8 535.6 L1559.2 535.8 L1561.5 536.0 L1563.8 536.1 L1566.2 536.2 L1568.5 536.4 L1570.8 536.5 L1573.1 536.6 L1575.5 536.7 L1577.8 536.8 L1580.1 536.9 L1582.5 537.0 L1584.8 537.1 L1587.1 537.2 L1589.5 537.3 L1591.8 537.4 L1594.1 537.5 L1596.5 537.6 L1598.8 537.6 L1601.1 537.7 L1603.4 537.8 L1605.8 537.9 L1608.1 537.9 L1610.4 538.0 L1612.8 538.1 L1615.1 538.1 L1617.4 538.2 L1619.8 538.3 L1622.1 538.3 L1624.4 538.4 L1626.7 538.4 L1629.1 538.5 L1631.4 538.5 L1633.7 538.5 L1636.1 538.6 L1638.4 538.6 L1640.7 538.6 L1643.1 538.7 L1645.4 538.7 L1647.7 538.7" stroke="#0000a0"/>
<path d="M948.6 130.4 L950.9 130.4 L953.3 130.4 L955.6 130.5 L957.9 130.5 L960.3 130.6 L962.6 130.6 L964.9 130.7 L967.2 130.8 L969.6 130.8 L971.9 130.9 L974.2 131.0 L976.6 131.1 L978.9 131.3 L981.2 131.4 L983.6 131.7 L985.9 132.2 L988.2 133.1 L990.5 134.4 L992.9 135.9 L995.2 137.8 L997.5 139.9 L999.9 142.4 L1002.2 145.7 L1004.5 149.8 L1006.9 154.4 L1009.2 159.2 L1011.5 164.1 L1013.9 169.3 L1016.2 174.7 L1018.5 180.3 L1020.8 186.0 L1023.2 192.1 L1025.5 198.3 L1027.8 204.6 L1030.2 210.9 L1032.5 217.1 L1034.8 223.2 L1037.2 229.2 L1039.5 235.3 L1041.8 241.7 L1044.1 248.8 L1046.5 256.7 L1048.8 265.6 L1051.1 275.1 L1053.5 284.2 L1055.8 292.6 L1058.1 300.0 L1060.5 306.9 L1062.8 313.4 L1065.1 319.6 L1067.5 325.6 L1069.8 331.3 L1072.1 337.0 L1074.4 342.9 L1076.8 349.3 L1079.1 356.3 L1081.4 363.6 L1083.8 370.7 L1086.1 377.3 L1088.4 383.1 L1090.8 388.3 L1093.1 393.1 L1095.4 397.6 L1097.7 401.7 L1100.1 405.6 L1102.4 409.3 L1104.7 412.7 L1107.1 415.8 L1109.4 418.8 L1111.7 421.7 L1114.1 424.6 L1116.4 427.4 L1118.7 430.3 L1121.0 433.0 L1123.4 435.7 L1125.7 438.2 L1128.0 440.5 L1130.4 442.7 L1132.7 444.9 L1135.0 446.9 L1137.4 448.9 L1139.7 450.8 L1142.0 452.6 L1144.4 454.3 L1146.7 456.0 L1149.0 457.7 L1151.3 459.3 L1153.7 460.8 L1156.0 462.3 L1158.3 463.7 L1160.7 465.1 L1163.0 466.4 L1165.3 467.6 L1167.7 468.8 L1170.0 469.9 L1172.3 471.0 L1174.6 472.1 L1177.0 473.1 L1179.3 474.0 L1181.6 474.9 L1184.0 475.8 L1186.3 476.7 L1188.6 477.5 L1191.0 478.2 L1193.3 479.0 L1195.6 479.7 L1198.0 480.3 L1200.3 481.0 L1202.6 481.6 L1204.9 482.2 L1207.3 482.8 L1209.6 483.4 L1211.9 483.9 L1214.3 484.5 L1216.6 485.0 L1218.9 485.5 L1221.3 486.0 L1223.6 486.5 L1225.9 487.0 L1228.2 487.5 L1230.6 488.0 L1232.9 488.5 L1235.2 489.0 L1237.6 489.6 L1239.9 490.1 L1242.2 490.6 L1244.6 491.1 L1246.9 491.7 L1249.2 492.2 L1251.6 492.8 L1253.9 493.4 L1256.2 494.0 L1258.5 494.6 L1260.9 495.3 L1263.2 496.0 L1265.5 496.7 L1267.9 497.5 L1270.2 498.3 L1272.5 499.2 L1274.9 500.1 L1277.2 501.0 L1279.5 501.9 L1281.8 502.9 L1284.2 503.8 L1286.5 504.8 L1288.8 505.7 L1291.2 506.7 L1293.5 507.6 L1295.8 508.5 L1298.2 509.4 L1300.5 510.2 L1302.8 511.1 L1305.2 511.9 L1307.5 512.7 L1309.8 513.4 L1312.1 514.1 L1314.5 514.8 L1316.8 515.4 L1319.1 516.0 L1321.5 516.6 L1323.8 517.1 L1326.1 517.6 L1328.5 518.0 L1330.8 518.5 L1333.1 518.9 L1335.4 519.4 L1337.8 519.8 L1340.1 520.2 L1342.4 520.6 L1344.8 521.0 L1347.1 521.3 L1349.4 521.7 L1351.8 522.1 L1354.1 522.4 L1356.4 522.8 L1358.8 523.1 L1361.1 523.4 L1363.4 523.7 L1365.7 524.0 L1368.1 524.3 L1370.4 524.6 L1372.7 524.9 L1375.1 525.1 L1377.4 525.4 L1379.7 525.6 L1382.1 525.9 L1384.4 526.1 L1386.7 526.3 L1389.0 526.6 L1391.4 526.8 L1393.7 527.0 L1396.0 527.3 L1398.4 527.5 L1400.7 527.7 L1403.0 527.9 L1405.4 528.1 L1407.7 528.4 L1410.0 528.6 L1412.3 528.8 L1414.7 529.0 L1417.0 529.2 L1419.3 529.4 L1421.7 529.6 L1424.0 529.7 L1426.3 529.9 L1428.7 530.1 L1431.0 530.3 L1433.3 530.5 L1435.7 530.6 L1438.0 530.8 L1440.3 531.0 L1442.6 531.1 L1445.0 531.3 L1447.3 531.5 L1449.6 531.7 L1452.0 531.9 L1454.3 532.0 L1456.6 532.2 L1459.0 532.4 L1461.3 532.6 L1463.6 532.8 L1465.9 533.0 L1468.3 533.2 L1470.6 533.4 L1472.9 533.6 L1475.3 533.8 L1477.6 534.0 L1479.9 534.2 L1482.3 534.3 L1484.6 534.5 L1486.9 534.7 L1489.3 534.8 L1491.6 535.0 L1493.9 535.1 L1496.2 535.3 L1498.6 535.4 L1500.9 535.5 L1503.2 535.7 L1505.6 535.8 L1507.9 535.9 L1510.2 536.1 L1512.6 536.2 L1514.9 536.3 L1517.2 536.4 L1519.5 536.5 L1521.9 536.6 L1524.2 536.7 L1526.5 536.9 L1528.9 537.0 L1531.2 537.0 L1533.5 537.1 L1535.9 537.2 L1538.2 537.3 L1540.5 537.4 L1542.9 537.5 L1545.2 537.6 L1547.5 537.6 L1549.8 537.7 L1552.2 537.8 L1554.5 537.8 L1556.8 537.9 L1559.2 538.0 L1561.5 538.0 L1563.8 538.1 L1566.2 538.2 L1568.5 538.2 L1570.8 538.3 L1573.1 538.3 L1575.5 538.4 L1577.8 538.4 L1580.1 538.5 L1582.5 538.5 L1584.8 538.6 L1587.1 538.6 L1589.5 538.7 L1591.8 538.7 L1594.1 538.7 L1596.5 538.8 L1598.8 538.8 L1601.1 538.8 L1603.4 538.9 L1605.8 538.9 L1608.1 539.0 L1610.4 539.0 L1612.8 539.0 L1615.1 539.0 L1617.4 539.1 L1619.8 539.1 L1622.1 539.1 L1624.4 539.2 L1626.7 539.2 L1629.1 539.2 L1631.4 539.2 L1633.7 539.3 L1636.1 539.3 L1638.4 539.3 L1640.7 539.3 L1643.1 539.3 L1645.4 539.3 L1647.7 539.3" stroke="#ff0000"/>
<path d="M948.6 127.0 L950.9 127.0 L953.3 127.0 L955.6 127.1 L957.9 127.1 L960.3 127.1 L962.6 127.1 L964.9 127.2 L967.2 127.2 L969.6 127.3 L971.9 127.3 L974.2 127.4 L976.6 127.4 L978.9 127.5 L981.2 127.6 L983.6 127.6 L985.9 127.7 L988.2 127.8 L990.5 127.9 L992.9 128.1 L995.2 128.3 L997.5 128.6 L999.9 128.9 L1002.2 129.4 L1004.5 129.9 L1006.9 130.5 L1009.2 131.2 L1011.5 132.1 L1013.9 133.3 L1016.2 134.8 L1018.5 136.7 L1020.8 138.8 L1023.2 141.1 L1025.5 143.6 L1027.8 146.6 L1030.2 150.1 L1032.5 154.2 L1034.8 159.1 L1037.2 164.7 L1039.5 170.9 L1041.8 177.3 L1044.1 183.6 L1046.5 190.0 L1048.8 196.4 L1051.1 203.3 L1053.5 210.7 L1055.8 219.1 L1058.1 228.7 L1060.5 239.7 L1062.8 252.5 L1065.1 267.2 L1067.5 281.5 L1069.8 292.6 L1072.1 300.4 L1074.4 306.9 L1076.8 313.2 L1079.1 319.6 L1081.4 325.7 L1083.8 331.3 L1086.1 336.6 L1088.4 341.6 L1090.8 346.3 L1093.1 350.6 L1095.4 354.3 L1097.7 357.6 L1100.1 360.5 L1102.4 363.2 L1104.7 365.4 L1107.1 367.3 L1109.4 368.7 L1111.7 369.8 L1114.1 370.7 L1116.4 371.4 L1118.7 371.9 L1121.0 372.2 L1123.4 372.3 L1125.7 372.2 L1128.0 372.0 L1130.4 371.7 L1132.7 371.3 L1135.0 370.9 L1137.4 370.4 L1139.7 369.8 L1142.0 369.1 L1144.4 368.4 L1146.7 367.6 L1149.0 366.7 L1151.3 365.7 L1153.7 364.7 L1156.0 363.5 L1158.3 362.3 L1160.7 360.9 L1163.0 359.4 L1165.3 357.8 L1167.7 356.1 L1170.0 354.2 L1172.3 352.1 L1174.6 349.9 L1177.0 347.6 L1179.3 345.2 L1181.6 342.6 L1184.0 340.1 L1186.3 337.4 L1188.6 334.8 L1191.0 332.1 L1193.3 329.4 L1195.6 326.8 L1198.0 324.1 L1200.3 321.5 L1202.6 318.9 L1204.9 316.3 L1207.3 313.8 L1209.6 311.3 L1211.9 309.0 L1214.3 306.7 L1216.6 304.5 L1218.9 302.5 L1221.3 300.5 L1223.6 298.7 L1225.9 297.0 L1228.2 295.4 L1230.6 293.9 L1232.9 292.7 L1235.2 291.5 L1237.6 290.5 L1239.9 289.8 L1242.2 289.2 L1244.6 288.9 L1246.9 288.8 L1249.2 289.0 L1251.6 289.5 L1253.9 290.4 L1256.2 291.6 L1258.5 293.2 L1260.9 295.1 L1263.2 297.3 L1265.5 299.8 L1267.9 302.6 L1270.2 305.6 L1272.5 308.9 L1274.9 312.4 L1277.2 316.2 L1279.5 320.2 L1281.8 324.4 L1284.2 328.9 L1286.5 333.5 L1288.8 338.2 L1291.2 343.0 L1293.5 347.9 L1295.8 352.8 L1298.2 357.6 L1300.5 362.4 L1302.8 367.0 L1305.2 371.4 L1307.5 375.7 L1309.8 379.8 L1312.1 383.8 L1314.5 387.7 L1316.8 391.5 L1319.1 395.1 L1321.5 398.6 L1323.8 402.0 L1326.1 405.2 L1328.5 408.2 L1330.8 411.0 L1333.1 413.5 L1335.4 415.9 L1337.8 418.1 L1340.1 420.1 L1342.4 421.9 L1344.8 423.6 L1347.1 425.2 L1349.4 426.6 L1351.8 428.0 L1354.1 429.3 L1356.4 430.6 L1358.8 431.8 L1361.1 433.0 L1363.4 434.1 L1365.7 435.2 L1368.1 436.2 L1370.4 437.3 L1372.7 438.3 L1375.1 439.2 L1377.4 440.2 L1379.7 441.1 L1382.1 442.1 L1384.4 443.0 L1386.7 444.0 L1389.0 444.9 L1391.4 445.9 L1393.7 446.9 L1396.0 447.9 L1398.4 449.0 L1400.7 450.0 L1403.0 451.1 L1405.4 452.2 L1407.7 453.4 L1410.0 454.6 L1412.3 455.8 L1414.7 457.1 L1417.0 458.5 L1419.3 459.9 L1421.7 461.4 L1424.0 462.9 L1426.3 464.6 L1428.7 466.2 L1431.0 468.0 L1433.3 469.7 L1435.7 471.5 L1438.0 473.3 L1440.3 475.1 L1442.6 476.9 L1445.0 478.7 L1447.3 480.5 L1449.6 482.3 L1452.0 484.1 L1454.3 485.9 L1456.6 487.7 L1459.0 489.4 L1461.3 491.2 L1463.6 492.9 L1465.9 494.5 L1468.3 496.2 L1470.6 497.8 L1472.9 499.3 L1475.3 500.9 L1477.6 502.3 L1479.9 503.8 L1482.3 505.2 L1484.6 506.6 L1486.9 507.9 L1489.3 509.2 L1491.6 510.4 L1493.9 511.5 L1496.2 512.7 L1498.6 513.7 L1500.9 514.8 L1503.2 515.8 L1505.6 516.7 L1507.9 517.6 L1510.2 518.5 L1512.6 519.3 L1514.9 520.1 L1517.2 520.9 L1519.5 521.6 L1521.9 522.3 L1524.2 522.9 L1526.5 523.5 L1528.9 524.1 L1531.2 524.7 L1533.5 525.2 L1535.9 525.7 L1538.2 526.2 L1540.5 526.7 L1542.9 527.1 L1545.2 527.5 L1547.5 527.9 L1549.8 528.3 L1552.2 528.7 L1554.5 529.0 L1556.8 529.3 L1559.2 529.7 L1561.5 530.0 L1563.8 530.3 L1566.2 530.5 L1568.5 530.8 L1570.8 531.1 L1573.1 531.3 L1575.5 531.5 L1577.8 531.8 L1580.1 532.0 L1582.5 532.2 L1584.8 532.4 L1587.1 532.6 L1589.5 532.8 L1591.8 533.0 L1594.1 533.2 L1596.5 533.4 L1598.8 533.6 L1601.1 533.7 L1603.4 533.9 L1605.8 534.1 L1608.1 534.2 L1610.4 534.4 L1612.8 534.6 L1615.1 534.7 L1617.4 534.8 L1619.8 535.0 L1622.1 535.1 L1624.4 535.2 L1626.7 535.3 L1629.1 535.4 L1631.4 535.5 L1633.7 535.6 L1636.1 535.7 L1638.4 535.8 L1640.7 535.9 L1643.1 535.9 L1645.4 536.0 L1647.7 536.0" stroke="#ff8000"/>
<path d="M948.6 129.1 L950.9 129.1 L953.3 129.1 L955.6 129.1 L957.9 129.1 L960.3 129.2 L962.6 129.2 L964.9 129.2 L967.2 129.3 L969.6 129.3 L971.9 129.3 L974.2 129.4 L976.6 129.5 L978.9 129.5 L981.2 129.6 L983.6 129.6 L985.9 129.7 L988.2 129.8 L990.5 129.9 L992.9 130.0 L995.2 130.1 L997.5 130.2 L999.9 130.5 L1002.2 130.8 L1004.5 131.2 L1006.9 131.7 L1009.2 132.3 L1011.5 132.9 L1013.9 133.6 L1016.2 134.4 L1018.5 135.4 L1020.8 136.5 L1023.2 137.8 L1025.5 139.4 L1027.8 141.2 L1030.2 143.4 L1032.5 146.0 L1034.8 149.3 L1037.2 153.3 L1039.5 158.0 L1041.8 163.6 L1044.1 170.0 L1046.5 176.6 L1048.8 183.2 L1051.1 189.7 L1053.5 196.4 L1055.8 203.4 L1058.1 210.9 L1060.5 219.1 L1062.8 228.3 L1065.1 238.5 L1067.5 250.2 L1069.8 263.6 L1072.1 277.3 L1074.4 288.8 L1076.8 296.8 L1079.1 303.0 L1081.4 308.8 L1083.8 314.8 L1086.1 320.7 L1088.4 326.2 L1090.8 331.2 L1093.1 335.6 L1095.4 339.6 L1097.7 343.3 L1100.1 346.4 L1102.4 349.1 L1104.7 351.3 L1107.1 353.3 L1109.4 354.9 L1111.7 356.2 L1114.1 357.3 L1116.4 358.0 L1118.7 358.7 L1121.0 359.1 L1123.4 359.4 L1125.7 359.6 L1128.0 359.6 L1130.4 359.5 L1132.7 359.2 L1135.0 358.8 L1137.4 358.3 L1139.7 357.7 L1142.0 357.1 L1144.4 356.3 L1146.7 355.4 L1149.0 354.4 L1151.3 353.3 L1153.7 352.1 L1156.0 350.7 L1158.3 349.3 L1160.7 347.7 L1163.0 346.0 L1165.3 344.2 L1167.7 342.3 L1170.0 340.2 L1172.3 338.1 L1174.6 335.8 L1177.0 333.5 L1179.3 331.0 L1181.6 328.5 L1184.0 326.0 L1186.3 323.4 L1188.6 320.8 L1191.0 318.1 L1193.3 315.5 L1195.6 312.8 L1198.0 310.2 L1200.3 307.6 L1202.6 304.9 L1204.9 302.3 L1207.3 299.8 L1209.6 297.4 L1211.9 295.0 L1214.3 292.7 L1216.6 290.6 L1218.9 288.6 L1221.3 286.6 L1223.6 284.8 L1225.9 283.1 L1228.2 281.6 L1230.6 280.2 L1232.9 278.9 L1235.2 277.7 L1237.6 276.7 L1239.9 275.9 L1242.2 275.3 L1244.6 274.9 L1246.9 274.7 L1249.2 274.8 L1251.6 275.2 L1253.9 275.9 L1256.2 276.9 L1258.5 278.2 L1260.9 279.9 L1263.2 281.9 L1265.5 284.2 L1267.9 286.9 L1270.2 289.9 L1272.5 293.3 L1274.9 297.0 L1277.2 300.9 L1279.5 305.2 L1281.8 309.6 L1284.2 314.3 L1286.5 319.2 L1288.8 324.1 L1291.2 329.2 L1293.5 334.4 L1295.8 339.5 L1298.2 344.7 L1300.5 349.8 L1302.8 354.9 L1305.2 359.9 L1307.5 364.7 L1309.8 369.3 L1312.1 373.8 L1314.5 378.1 L1316.8 382.1 L1319.1 385.9 L1321.5 389.5 L1323.8 392.8 L1326.1 395.8 L1328.5 398.6 L1330.8 401.1 L1333.1 403.4 L1335.4 405.5 L1337.8 407.5 L1340.1 409.3 L1342.4 411.0 L1344.8 412.6 L1347.1 414.1 L1349.4 415.5 L1351.8 416.9 L1354.1 418.2 L1356.4 419.5 L1358.8 420.7 L1361.1 422.0 L1363.4 423.2 L1365.7 424.4 L1368.1 425.5 L1370.4 426.6 L1372.7 427.8 L1375.1 428.9 L1377.4 430.0 L1379.7 431.1 L1382.1 432.1 L1384.4 433.2 L1386.7 434.3 L1389.0 435.5 L1391.4 436.6 L1393.7 437.7 L1396.0 438.9 L1398.4 440.1 L1400.7 441.2 L1403.0 442.5 L1405.4 443.7 L1407.7 445.0 L1410.0 446.3 L1412.3 447.7 L1414.7 449.2 L1417.0 450.7 L1419.3 452.3 L1421.7 454.0 L1424.0 455.7 L1426.3 457.6 L1428.7 459.4 L1431.0 461.3 L1433.3 463.2 L1435.7 465.1 L1438.0 467.0 L1440.3 468.9 L1442.6 470.8 L1445.0 472.6 L1447.3 474.4 L1449.6 476.2 L1452.0 478.0 L1454.3 479.7 L1456.6 481.4 L1459.0 483.1 L1461.3 484.8 L1463.6 486.5 L1465.9 488.2 L1468.3 489.8 L1470.6 491.5 L1472.9 493.1 L1475.3 494.7 L1477.6 496.2 L1479.9 497.7 L1482.3 499.2 L1484.6 500.7 L1486.9 502.1 L1489.3 503.4 L1491.6 504.7 L1493.9 505.9 L1496.2 507.1 L1498.6 508.2 L1500.9 509.3 L1503.2 510.4 L1505.6 511.4 L1507.9 512.3 L1510.2 513.2 L1512.6 514.1 L1514.9 514.9 L1517.2 515.7 L1519.5 516.4 L1521.9 517.1 L1524.2 517.7 L1526.5 518.4 L1528.9 519.0 L1531.2 519.5 L1533.5 520.1 L1535.9 520.6 L1538.2 521.1 L1540.5 521.5 L1542.9 522.0 L1545.2 522.4 L1547.5 522.8 L1549.8 523.2 L1552.2 523.6 L1554.5 524.0 L1556.8 524.3 L1559.2 524.7 L1561.5 525.0 L1563.8 525.3 L1566.2 525.6 L1568.5 525.9 L1570.8 526.1 L1573.1 526.4 L1575.5 526.6 L1577.8 526.9 L1580.1 527.1 L1582.5 527.3 L1584.8 527.5 L1587.1 527.7 L1589.5 527.9 L1591.8 528.1 L1594.1 528.3 L1596.5 528.5 L1598.8 528.6 L1601.1 528.8 L1603.4 529.0 L1605.8 529.2 L1608.1 529.3 L1610.4 529.5 L1612.8 529.6 L1615.1 529.8 L1617.4 529.9 L1619.8 530.0 L1622.1 530.2 L1624.4 530.3 L1626.7 530.4 L1629.1 530.5 L1631.4 530.6 L1633.7 530.7 L1636.1 530.8 L1638.4 530.9 L1640.7 530.9 L1643.1 531.0 L1645.4 531.1 L1647.7 531.1" stroke="#800080"/>
<path d="M948.6 130.4 L950.9 130.4 L953.3 130.4 L955.6 130.4 L957.9 130.4 L960.3 130.5 L962.6 130.5 L964.9 130.5 L967.2 130.5 L969.6 130.6 L971.9 130.6 L974.2 130.7 L976.6 130.7 L978.9 130.8 L981.2 130.8 L983.6 130.9 L985.9 131.0 L988.2 131.1 L990.5 131.1 L992.9 131.2 L995.2 131.3 L997.5 131.4 L999.9 131.6 L1002.2 131.8 L1004.5 132.1 L1006.9 132.6 L1009.2 133.1 L1011.5 133.7 L1013.9 134.4 L1016.2 135.1 L1018.5 135.8 L1020.8 136.6 L1023.2 137.5 L1025.5 138.5 L1027.8 139.7 L1030.2 141.2 L1032.5 143.0 L1034.8 145.5 L1037.2 148.6 L1039.5 152.4 L1041.8 157.0 L1044.1 162.5 L1046.5 168.9 L1048.8 175.6 L1051.1 182.3 L1053.5 188.9 L1055.8 195.6 L1058.1 202.6 L1060.5 210.3 L1062.8 219.1 L1065.1 229.2 L1067.5 239.9 L1069.8 250.0 L1072.1 258.6 L1074.4 266.2 L1076.8 273.5 L1079.1 281.1 L1081.4 289.3 L1083.8 297.6 L1086.1 305.3 L1088.4 312.3 L1090.8 318.5 L1093.1 324.0 L1095.4 328.5 L1097.7 332.1 L1100.1 335.0 L1102.4 337.4 L1104.7 339.5 L1107.1 341.3 L1109.4 342.8 L1111.7 344.0 L1114.1 345.1 L1116.4 346.1 L1118.7 347.0 L1121.0 347.7 L1123.4 348.2 L1125.7 348.6 L1128.0 348.7 L1130.4 348.7 L1132.7 348.5 L1135.0 348.2 L1137.4 347.8 L1139.7 347.3 L1142.0 346.7 L1144.4 346.0 L1146.7 345.2 L1149.0 344.4 L1151.3 343.4 L1153.7 342.3 L1156.0 341.1 L1158.3 339.8 L1160.7 338.4 L1163.0 336.8 L1165.3 335.1 L1167.7 333.2 L1170.0 331.2 L1172.3 329.0 L1174.6 326.7 L1177.0 324.3 L1179.3 321.7 L1181.6 319.1 L1184.0 316.4 L1186.3 313.6 L1188.6 310.9 L1191.0 308.1 L1193.3 305.3 L1195.6 302.6 L1198.0 299.8 L1200.3 297.1 L1202.6 294.4 L1204.9 291.8 L1207.3 289.2 L1209.6 286.7 L1211.9 284.3 L1214.3 281.9 L1216.6 279.7 L1218.9 277.6 L1221.3 275.6 L1223.6 273.8 L1225.9 272.0 L1228.2 270.4 L1230.6 268.9 L1232.9 267.6 L1235.2 266.4 L1237.6 265.4 L1239.9 264.6 L1242.2 263.9 L1244.6 263.5 L1246.9 263.4 L1249.2 263.5 L1251.6 263.9 L1253.9 264.6 L1256.2 265.6 L1258.5 266.9 L1260.9 268.5 L1263.2 270.5 L1265.5 272.8 L1267.9 275.5 L1270.2 278.6 L1272.5 282.0 L1274.9 285.7 L1277.2 289.8 L1279.5 294.1 L1281.8 298.7 L1284.2 303.5 L1286.5 308.5 L1288.8 313.6 L1291.2 318.8 L1293.5 324.1 L1295.8 329.4 L1298.2 334.6 L1300.5 339.8 L1302.8 345.0 L1305.2 350.1 L1307.5 355.1 L1309.8 360.0 L1312.1 364.7 L1314.5 369.4 L1316.8 373.8 L1319.1 378.0 L1321.5 382.0 L1323.8 385.8 L1326.1 389.3 L1328.5 392.6 L1330.8 395.6 L1333.1 398.3 L1335.4 400.7 L1337.8 403.0 L1340.1 405.0 L1342.4 406.9 L1344.8 408.6 L1347.1 410.2 L1349.4 411.7 L1351.8 413.1 L1354.1 414.4 L1356.4 415.7 L1358.8 416.9 L1361.1 418.2 L1363.4 419.3 L1365.7 420.5 L1368.1 421.7 L1370.4 422.8 L1372.7 423.9 L1375.1 425.0 L1377.4 426.1 L1379.7 427.2 L1382.1 428.3 L1384.4 429.4 L1386.7 430.5 L1389.0 431.6 L1391.4 432.7 L1393.7 433.9 L1396.0 435.0 L1398.4 436.2 L1400.7 437.4 L1403.0 438.6 L1405.4 439.9 L1407.7 441.2 L1410.0 442.5 L1412.3 443.8 L1414.7 445.2 L1417.0 446.7 L1419.3 448.2 L1421.7 449.8 L1424.0 451.4 L1426.3 453.1 L1428.7 454.8 L1431.0 456.6 L1433.3 458.4 L1435.7 460.2 L1438.0 462.0 L1440.3 463.9 L1442.6 465.7 L1445.0 467.6 L1447.3 469.5 L1449.6 471.4 L1452.0 473.3 L1454.3 475.2 L1456.6 477.0 L1459.0 478.8 L1461.3 480.6 L1463.6 482.4 L1465.9 484.1 L1468.3 485.8 L1470.6 487.4 L1472.9 489.0 L1475.3 490.6 L1477.6 492.1 L1479.9 493.6 L1482.3 495.0 L1484.6 496.4 L1486.9 497.8 L1489.3 499.1 L1491.6 500.3 L1493.9 501.5 L1496.2 502.7 L1498.6 503.8 L1500.9 504.9 L1503.2 505.9 L1505.6 506.9 L1507.9 507.9 L1510.2 508.8 L1512.6 509.7 L1514.9 510.5 L1517.2 511.4 L1519.5 512.1 L1521.9 512.9 L1524.2 513.6 L1526.5 514.3 L1528.9 514.9 L1531.2 515.5 L1533.5 516.1 L1535.9 516.7 L1538.2 517.2 L1540.5 517.7 L1542.9 518.2 L1545.2 518.6 L1547.5 519.0 L1549.8 519.4 L1552.2 519.8 L1554.5 520.2 L1556.8 520.5 L1559.2 520.8 L1561.5 521.1 L1563.8 521.4 L1566.2 521.7 L1568.5 522.0 L1570.8 522.3 L1573.1 522.5 L1575.5 522.7 L1577.8 523.0 L1580.1 523.2 L1582.5 523.4 L1584.8 523.6 L1587.1 523.8 L1589.5 524.0 L1591.8 524.2 L1594.1 524.4 L1596.5 524.6 L1598.8 524.8 L1601.1 524.9 L1603.4 525.1 L1605.8 525.3 L1608.1 525.5 L1610.4 525.6 L1612.8 525.8 L1615.1 525.9 L1617.4 526.0 L1619.8 526.2 L1622.1 526.3 L1624.4 526.4 L1626.7 526.5 L1629.1 526.6 L1631.4 526.7 L1633.7 526.8 L1636.1 526.9 L1638.4 527.0 L1640.7 527.1 L1643.1 527.1 L1645.4 527.2 L1647.7 527.2" stroke="#8000ff"/>
<path d="M948.6 132.5 L950.9 132.5 L953.3 132.5 L955.6 132.5 L957.9 132.5 L960.3 132.5 L962.6 132.5 L964.9 132.6 L967.2 132.6 L969.6 132.6 L971.9 132.7 L974.2 132.7 L976.6 132.7 L978.9 132.8 L981.2 132.8 L983.6 132.9 L985.9 133.0 L988.2 133.0 L990.5 133.1 L992.9 133.2 L995.2 133.2 L997.5 133.3 L999.9 133.4 L1002.2 133.5 L1004.5 133.6 L1006.9 133.8 L1009.2 134.0 L1011.5 134.3 L1013.9 134.9 L1016.2 135.5 L1018.5 136.2 L1020.8 137.0 L1023.2 137.7 L1025.5 138.4 L1027.8 139.0 L1030.2 139.6 L1032.5 140.1 L1034.8 140.7 L1037.2 141.5 L1039.5 142.7 L1041.8 144.5 L1044.1 147.2 L1046.5 150.7 L1048.8 155.0 L1051.1 160.3 L1053.5 166.7 L1055.8 173.8 L1058.1 180.9 L1060.5 188.0 L1062.8 195.0 L1065.1 202.3 L1067.5 209.9 L1069.8 217.9 L1072.1 226.5 L1074.4 235.6 L1076.8 245.1 L1079.1 255.1 L1081.4 265.5 L1083.8 275.5 L1086.1 284.5 L1088.4 292.4 L1090.8 299.4 L1093.1 305.5 L1095.4 310.9 L1097.7 315.8 L1100.1 320.0 L1102.4 323.4 L1104.7 326.2 L1107.1 328.6 L1109.4 330.7 L1111.7 332.3 L1114.1 333.6 L1116.4 334.5 L1118.7 335.3 L1121.0 335.8 L1123.4 336.3 L1125.7 336.6 L1128.0 336.7 L1130.4 336.7 L1132.7 336.6 L1135.0 336.2 L1137.4 335.8 L1139.7 335.2 L1142.0 334.5 L1144.4 333.7 L1146.7 332.8 L1149.0 331.8 L1151.3 330.6 L1153.7 329.4 L1156.0 328.0 L1158.3 326.5 L1160.7 324.9 L1163.0 323.2 L1165.3 321.4 L1167.7 319.5 L1170.0 317.4 L1172.3 315.2 L1174.6 313.0 L1177.0 310.6 L1179.3 308.1 L1181.6 305.6 L1184.0 303.1 L1186.3 300.5 L1188.6 297.9 L1191.0 295.4 L1193.3 292.8 L1195.6 290.2 L1198.0 287.7 L1200.3 285.2 L1202.6 282.7 L1204.9 280.2 L1207.3 277.8 L1209.6 275.5 L1211.9 273.2 L1214.3 271.1 L1216.6 269.0 L1218.9 267.0 L1221.3 265.2 L1223.6 263.4 L1225.9 261.8 L1228.2 260.3 L1230.6 258.9 L1232.9 257.6 L1235.2 256.5 L1237.6 255.6 L1239.9 254.8 L1242.2 254.2 L1244.6 253.8 L1246.9 253.6 L1249.2 253.7 L1251.6 254.0 L1253.9 254.5 L1256.2 255.3 L1258.5 256.4 L1260.9 257.8 L1263.2 259.5 L1265.5 261.6 L1267.9 264.0 L1270.2 266.7 L1272.5 269.9 L1274.9 273.3 L1277.2 277.1 L1279.5 281.2 L1281.8 285.6 L1284.2 290.3 L1286.5 295.1 L1288.8 300.2 L1291.2 305.3 L1293.5 310.6 L1295.8 316.0 L1298.2 321.4 L1300.5 326.8 L1302.8 332.2 L1305.2 337.5 L1307.5 342.8 L1309.8 347.9 L1312.1 352.9 L1314.5 357.8 L1316.8 362.5 L1319.1 367.0 L1321.5 371.3 L1323.8 375.5 L1326.1 379.4 L1328.5 383.1 L1330.8 386.6 L1333.1 389.7 L1335.4 392.7 L1337.8 395.4 L1340.1 397.9 L1342.4 400.1 L1344.8 402.1 L1347.1 404.0 L1349.4 405.6 L1351.8 407.2 L1354.1 408.7 L1356.4 410.0 L1358.8 411.4 L1361.1 412.6 L1363.4 413.8 L1365.7 415.0 L1368.1 416.1 L1370.4 417.3 L1372.7 418.3 L1375.1 419.4 L1377.4 420.5 L1379.7 421.5 L1382.1 422.6 L1384.4 423.6 L1386.7 424.7 L1389.0 425.8 L1391.4 426.9 L1393.7 428.0 L1396.0 429.2 L1398.4 430.4 L1400.7 431.6 L1403.0 432.9 L1405.4 434.2 L1407.7 435.5 L1410.0 436.8 L1412.3 438.2 L1414.7 439.5 L1417.0 440.9 L1419.3 442.3 L1421.7 443.7 L1424.0 445.2 L1426.3 446.7 L1428.7 448.2 L1431.0 449.8 L1433.3 451.4 L1435.7 453.1 L1438.0 454.9 L1440.3 456.7 L1442.6 458.6 L1445.0 460.6 L1447.3 462.6 L1449.6 464.7 L1452.0 466.8 L1454.3 468.9 L1456.6 471.0 L1459.0 473.1 L1461.3 475.1 L1463.6 477.1 L1465.9 479.0 L1468.3 480.8 L1470.6 482.5 L1472.9 484.2 L1475.3 485.8 L1477.6 487.4 L1479.9 488.9 L1482.3 490.4 L1484.6 491.8 L1486.9 493.2 L1489.3 494.5 L1491.6 495.8 L1493.9 497.0 L1496.2 498.2 L1498.6 499.3 L1500.9 500.4 L1503.2 501.5 L1505.6 502.5 L1507.9 503.5 L1510.2 504.4 L1512.6 505.3 L1514.9 506.1 L1517.2 506.9 L1519.5 507.6 L1521.9 508.3 L1524.2 508.9 L1526.5 509.5 L1528.9 510.1 L1531.2 510.6 L1533.5 511.2 L1535.9 511.7 L1538.2 512.1 L1540.5 512.6 L1542.9 513.0 L1545.2 513.5 L1547.5 513.9 L1549.8 514.2 L1552.2 514.6 L1554.5 515.0 L1556.8 515.3 L1559.2 515.7 L1561.5 516.0 L1563.8 516.3 L1566.2 516.7 L1568.5 517.0 L1570.8 517.3 L1573.1 517.6 L1575.5 517.9 L1577.8 518.2 L1580.1 518.5 L1582.5 518.8 L1584.8 519.0 L1587.1 519.3 L1589.5 519.5 L1591.8 519.7 L1594.1 520.0 L1596.5 520.2 L1598.8 520.4 L1601.1 520.5 L1603.4 520.7 L1605.8 520.9 L1608.1 521.0 L1610.4 521.2 L1612.8 521.4 L1615.1 521.5 L1617.4 521.7 L1619.8 521.8 L1622.1 522.0 L1624.4 522.1 L1626.7 522.3 L1629.1 522.4 L1631.4 522.6 L1633.7 522.7 L1636.1 522.9 L1638.4 523.0 L1640.7 523.1 L1643.1 523.2 L1645.4 523.3 L1647.7 523.4" stroke="#000000"/>
</g>
<line x1="1513.8" x2="1563.8" y1="41.70" y2="41.70" stroke="#000000" stroke-width="6.4"/>
<text transform="translate(1570.80 49.00) scale(1.09 1)" text-anchor="start" font-family='"Liberation Sans", sans-serif' font-weight="bold" font-size="19.8" fill="#000" stroke="#000" stroke-width="0.3">Blank</text>
<line x1="1513.8" x2="1563.8" y1="71.12" y2="71.12" stroke="#ff0000" stroke-width="6.4"/>
<text transform="translate(1570.80 78.42) scale(1.09 1)" text-anchor="start" font-family='"Liberation Sans", sans-serif' font-weight="bold" font-size="19.8" fill="#000" stroke="#000" stroke-width="0.3">10 <tspan font-family='"Liberation Serif", serif' font-weight="normal" font-size="20.5">μ</tspan>M</text>
<line x1="1513.8" x2="1563.8" y1="100.54" y2="100.54" stroke="#0000ff" stroke-width="6.4"/>
<text transform="translate(1570.80 107.84) scale(1.09 1)" text-anchor="start" font-family='"Liberation Sans", sans-serif' font-weight="bold" font-size="19.8" fill="#000" stroke="#000" stroke-width="0.3">20 <tspan font-family='"Liberation Serif", serif' font-weight="normal" font-size="20.5">μ</tspan>M</text>
<line x1="1513.8" x2="1563.8" y1="129.96" y2="129.96" stroke="#008080" stroke-width="6.4"/>
<text transform="translate(1570.80 137.26) scale(1.09 1)" text-anchor="start" font-family='"Liberation Sans", sans-serif' font-weight="bold" font-size="19.8" fill="#000" stroke="#000" stroke-width="0.3">30 <tspan font-family='"Liberation Serif", serif' font-weight="normal" font-size="20.5">μ</tspan>M</text>
<line x1="1513.8" x2="1563.8" y1="159.38" y2="159.38" stroke="#ff00ff" stroke-width="6.4"/>
<text transform="translate(1570.80 166.68) scale(1.09 1)" text-anchor="start" font-family='"Liberation Sans", sans-serif' font-weight="bold" font-size="19.8" fill="#000" stroke="#000" stroke-width="0.3">40 <tspan font-family='"Liberation Serif", serif' font-weight="normal" font-size="20.5">μ</tspan>M</text>
<line x1="1513.8" x2="1563.8" y1="188.80" y2="188.80" stroke="#808000" stroke-width="6.4"/>
<text transform="translate(1570.80 196.10) scale(1.09 1)" text-anchor="start" font-family='"Liberation Sans", sans-serif' font-weight="bold" font-size="19.8" fill="#000" stroke="#000" stroke-width="0.3">50 <tspan font-family='"Liberation Serif", serif' font-weight="normal" font-size="20.5">μ</tspan>M</text>
<line x1="1513.8" x2="1563.8" y1="218.22" y2="218.22" stroke="#000080" stroke-width="6.4"/>
<text transform="translate(1570.80 225.52) scale(1.09 1)" text-anchor="start" font-family='"Liberation Sans", sans-serif' font-weight="bold" font-size="19.8" fill="#000" stroke="#000" stroke-width="0.3">60 <tspan font-family='"Liberation Serif", serif' font-weight="normal" font-size="20.5">μ</tspan>M</text>
<line x1="1513.8" x2="1563.8" y1="247.64" y2="247.64" stroke="#800000" stroke-width="6.4"/>
<text transform="translate(1570.80 254.94) scale(1.09 1)" text-anchor="start" font-family='"Liberation Sans", sans-serif' font-weight="bold" font-size="19.8" fill="#000" stroke="#000" stroke-width="0.3">70 <tspan font-family='"Liberation Serif", serif' font-weight="normal" font-size="20.5">μ</tspan>M</text>
<line x1="1513.8" x2="1563.8" y1="277.06" y2="277.06" stroke="#ff0080" stroke-width="6.4"/>
<text transform="translate(1570.80 284.36) scale(1.09 1)" text-anchor="start" font-family='"Liberation Sans", sans-serif' font-weight="bold" font-size="19.8" fill="#000" stroke="#000" stroke-width="0.3">80 <tspan font-family='"Liberation Serif", serif' font-weight="normal" font-size="20.5">μ</tspan>M</text>
<line x1="1513.8" x2="1563.8" y1="306.48" y2="306.48" stroke="#008000" stroke-width="6.4"/>
<text transform="translate(1570.80 313.78) scale(1.09 1)" text-anchor="start" font-family='"Liberation Sans", sans-serif' font-weight="bold" font-size="19.8" fill="#000" stroke="#000" stroke-width="0.3">90 <tspan font-family='"Liberation Serif", serif' font-weight="normal" font-size="20.5">μ</tspan>M</text>
<line x1="1513.8" x2="1563.8" y1="335.90" y2="335.90" stroke="#0000a0" stroke-width="6.4"/>
<text transform="translate(1570.80 343.20) scale(1.09 1)" text-anchor="start" font-family='"Liberation Sans", sans-serif' font-weight="bold" font-size="19.8" fill="#000" stroke="#000" stroke-width="0.3">100 <tspan font-family='"Liberation Serif", serif' font-weight="normal" font-size="20.5">μ</tspan>M</text>
<line x1="1513.8" x2="1563.8" y1="365.32" y2="365.32" stroke="#ff8000" stroke-width="6.4"/>
<text transform="translate(1570.80 372.62) scale(1.09 1)" text-anchor="start" font-family='"Liberation Sans", sans-serif' font-weight="bold" font-size="19.8" fill="#000" stroke="#000" stroke-width="0.3">200 <tspan font-family='"Liberation Serif", serif' font-weight="normal" font-size="20.5">μ</tspan>M</text>
<line x1="1513.8" x2="1563.8" y1="394.74" y2="394.74" stroke="#800080" stroke-width="6.4"/>
<text transform="translate(1570.80 402.04) scale(1.09 1)" text-anchor="start" font-family='"Liberation Sans", sans-serif' font-weight="bold" font-size="19.8" fill="#000" stroke="#000" stroke-width="0.3">300 <tspan font-family='"Liberation Serif", serif' font-weight="normal" font-size="20.5">μ</tspan>M</text>
<line x1="1513.8" x2="1563.8" y1="424.16" y2="424.16" stroke="#8000ff" stroke-width="6.4"/>
<text transform="translate(1570.80 431.46) scale(1.09 1)" text-anchor="start" font-family='"Liberation Sans", sans-serif' font-weight="bold" font-size="19.8" fill="#000" stroke="#000" stroke-width="0.3">400 <tspan font-family='"Liberation Serif", serif' font-weight="normal" font-size="20.5">μ</tspan>M</text>
<line x1="1513.8" x2="1563.8" y1="453.58" y2="453.58" stroke="#000000" stroke-width="6.4"/>
<text transform="translate(1570.80 460.88) scale(1.09 1)" text-anchor="start" font-family='"Liberation Sans", sans-serif' font-weight="bold" font-size="19.8" fill="#000" stroke="#000" stroke-width="0.3">500 <tspan font-family='"Liberation Serif", serif' font-weight="normal" font-size="20.5">μ</tspan>M</text>
</g>
</g>
<g filter="url(#soft2)">
<g id="panel-c">
<rect x="385.4" y="694.4" width="904.2" height="596.7" fill="#fbf8fe" stroke="#6b369e" stroke-width="5.3"/>
<g clip-path="url(#photo-clip)">
<rect x="395.3" y="701.9" width="888.7" height="581.6" fill="url(#bg-h)"/>
<g filter="url(#blur12)">
<ellipse cx="1258" cy="745" rx="55" ry="75" fill="#b0b4ba" opacity="0.6"/>
<ellipse cx="1278" cy="1200" rx="20" ry="110" fill="#96969c" opacity="0.6"/>
<ellipse cx="1120" cy="715" rx="200" ry="20" fill="#b8bdc4" opacity="0.6"/>
<ellipse cx="440" cy="860" rx="60" ry="130" fill="#eff0f1" opacity="0.8"/>
<ellipse cx="520" cy="1150" rx="70" ry="100" fill="#eceeef" opacity="0.7"/>
<ellipse cx="1000" cy="1010" rx="300" ry="30" fill="#c6d2da" opacity="0.7"/>
</g>
<g filter="url(#blur2)">
<path d="M390 992 L620 995 L900 993 L1060 988 L1290 1000 L1290 1006 L1060 997 L900 1003 L620 1005 L390 1002 Z" fill="#7c8288" opacity="0.6"/>
<path d="M390 983 L620 987 L900 984 L1060 979 L1290 990 L1290 996 L1060 985 L900 991 L620 994 L390 990 Z" fill="#f4f6f7" opacity="0.7"/>
</g>
<rect x="395.3" y="701.9" width="888.7" height="581.6" fill="url(#towel)" opacity="0.26"/>
<g filter="url(#blur2)" opacity="0.55">
<g transform="translate(519 724) rotate(-4.19)">
<path d="M23 11.6 L46 18.6 C47 116.3 34.8 186.1 23.5 221.0 Q15.3 239.6 4 239.6 L0 139.6 Z" fill="#303038"/>
</g></g>
<g filter="url(#blur2)" opacity="0.3"><g transform="translate(519 724) rotate(-4.19)"><ellipse cx="9.3" cy="232.6" rx="7" ry="5" fill="#141416"/></g></g>
<g filter="url(#blur2)" opacity="0.55">
<g transform="translate(622 724) rotate(-1.96)">
<path d="M23 11.7 L46 18.7 C47 117.1 34.8 187.3 23.5 222.4 Q15.3 241.2 4 241.2 L0 140.5 Z" fill="#303038"/>
</g></g>
<g filter="url(#blur2)" opacity="0.3"><g transform="translate(622 724) rotate(-1.96)"><ellipse cx="9.3" cy="234.1" rx="7" ry="5" fill="#141416"/></g></g>
<g filter="url(#blur2)" opacity="0.55">
<g transform="translate(735 724) rotate(-2.10)">
<path d="M24 12.3 L47 19.6 C48 122.6 35.6 196.1 24.0 232.9 Q15.6 252.5 4 252.5 L0 147.1 Z" fill="#303038"/>
</g></g>
<g filter="url(#blur2)" opacity="0.3"><g transform="translate(735 724) rotate(-2.10)"><ellipse cx="9.6" cy="245.2" rx="7" ry="5" fill="#141416"/></g></g>
<g filter="url(#blur2)" opacity="0.55">
<g transform="translate(840 726) rotate(-0.48)">
<path d="M24 12.1 L47 19.3 C48 120.5 35.6 192.8 24.0 229.0 Q15.6 248.2 4 248.2 L0 144.6 Z" fill="#303038"/>
</g></g>
<g filter="url(#blur2)" opacity="0.3"><g transform="translate(840 726) rotate(-0.48)"><ellipse cx="9.6" cy="241.0" rx="7" ry="5" fill="#141416"/></g></g>
<g filter="url(#blur2)" opacity="0.55">
<g transform="translate(950 730) rotate(0.47)">
<path d="M24 12.2 L47 19.5 C48 122.0 35.6 195.2 24.0 231.8 Q15.6 251.3 4 251.3 L0 146.4 Z" fill="#303038"/>
</g></g>
<g filter="url(#blur2)" opacity="0.3"><g transform="translate(950 730) rotate(0.47)"><ellipse cx="9.6" cy="244.0" rx="7" ry="5" fill="#141416"/></g></g>
<g filter="url(#blur2)" opacity="0.55">
<g transform="translate(1060 732) rotate(0.95)">
<path d="M24 12.1 L47 19.4 C48 121.0 35.6 193.6 24.0 229.9 Q15.6 249.3 4 249.3 L0 145.2 Z" fill="#303038"/>
</g></g>
<g filter="url(#blur2)" opacity="0.3"><g transform="translate(1060 732) rotate(0.95)"><ellipse cx="9.6" cy="242.0" rx="7" ry="5" fill="#141416"/></g></g>
<g filter="url(#blur2)" opacity="0.55">
<g transform="translate(1164 738) rotate(0.00)">
<path d="M24 12.2 L47 19.4 C48 121.5 35.6 194.4 24.0 230.8 Q15.6 250.3 4 250.3 L0 145.8 Z" fill="#303038"/>
</g></g>
<g filter="url(#blur2)" opacity="0.3"><g transform="translate(1164 738) rotate(0.00)"><ellipse cx="9.6" cy="243.0" rx="7" ry="5" fill="#141416"/></g></g>
<g filter="url(#blur2)" opacity="0.7">
<g transform="translate(455 1010) rotate(-2.76)">
<path d="M25 11.4 L48 18.3 C49 114.1 36.4 182.6 24.5 216.9 Q15.9 235.1 4 235.1 L0 137.0 Z" fill="#303038"/>
</g></g>
<g filter="url(#blur2)" opacity="0.55"><g transform="translate(455 1010) rotate(-2.76)"><ellipse cx="9.9" cy="228.3" rx="7" ry="5" fill="#141416"/></g></g>
<g filter="url(#blur2)" opacity="0.7">
<g transform="translate(568 1028) rotate(-4.44)">
<path d="M23.5 11.0 L46.5 17.6 C47.5 109.8 35.2 175.7 23.8 208.7 Q15.4 226.2 4 226.2 L0 131.8 Z" fill="#303038"/>
</g></g>
<g filter="url(#blur2)" opacity="0.55"><g transform="translate(568 1028) rotate(-4.44)"><ellipse cx="9.4" cy="219.7" rx="7" ry="5" fill="#141416"/></g></g>
<g filter="url(#blur2)" opacity="0.7">
<g transform="translate(677 1030) rotate(-1.30)">
<path d="M23.5 11.1 L46.5 17.7 C47.5 110.5 35.2 176.8 23.8 210.0 Q15.4 227.7 4 227.7 L0 132.6 Z" fill="#303038"/>
</g></g>
<g filter="url(#blur2)" opacity="0.55"><g transform="translate(677 1030) rotate(-1.30)"><ellipse cx="9.4" cy="221.1" rx="7" ry="5" fill="#141416"/></g></g>
<g filter="url(#blur2)" opacity="0.7">
<g transform="translate(791 1022) rotate(-2.00)">
<path d="M23.5 11.5 L46.5 18.3 C47.5 114.6 35.2 183.3 23.8 217.7 Q15.4 236.0 4 236.0 L0 137.5 Z" fill="#303038"/>
</g></g>
<g filter="url(#blur2)" opacity="0.55"><g transform="translate(791 1022) rotate(-2.00)"><ellipse cx="9.4" cy="229.1" rx="7" ry="5" fill="#141416"/></g></g>
<g filter="url(#blur2)" opacity="0.7">
<g transform="translate(904 1030) rotate(-0.25)">
<path d="M22.5 11.4 L45.5 18.2 C46.5 114.0 34.4 182.4 23.2 216.6 Q15.2 234.8 4 234.8 L0 136.8 Z" fill="#303038"/>
</g></g>
<g filter="url(#blur2)" opacity="0.3"><g transform="translate(904 1030) rotate(-0.25)"><ellipse cx="9.2" cy="228.0" rx="7" ry="5" fill="#141416"/></g></g>
<g filter="url(#blur2)" opacity="0.7">
<g transform="translate(1014.5 1034) rotate(-0.13)">
<path d="M22.5 11.3 L45.5 18.0 C46.5 112.5 34.4 180.0 23.2 213.8 Q15.2 231.8 4 231.8 L0 135.0 Z" fill="#303038"/>
</g></g>
<g filter="url(#blur2)" opacity="0.3"><g transform="translate(1014.5 1034) rotate(-0.13)"><ellipse cx="9.2" cy="225.0" rx="7" ry="5" fill="#141416"/></g></g>
<g filter="url(#blur2)" opacity="0.7">
<g transform="translate(1127 1036) rotate(0.00)">
<path d="M22.5 11.2 L45.5 18.0 C46.5 112.5 34.4 180.0 23.2 213.8 Q15.2 231.8 4 231.8 L0 135.0 Z" fill="#303038"/>
</g></g>
<g filter="url(#blur2)" opacity="0.3"><g transform="translate(1127 1036) rotate(0.00)"><ellipse cx="9.2" cy="225.0" rx="7" ry="5" fill="#141416"/></g></g>
<g filter="url(#blur2)" opacity="0.7">
<g transform="translate(1236.5 1042) rotate(-0.05)">
<path d="M22.5 11.1 L45.5 17.8 C46.5 111.0 34.4 177.6 23.2 210.9 Q15.2 228.7 4 228.7 L0 133.2 Z" fill="#303038"/>
</g></g>
<g filter="url(#blur2)" opacity="0.3"><g transform="translate(1236.5 1042) rotate(-0.05)"><ellipse cx="9.2" cy="222.0" rx="7" ry="5" fill="#141416"/></g></g>
<g transform="translate(519 724) rotate(-4.19)">
<g filter="url(#blur1)">
<ellipse cx="-2" cy="-1" rx="37" ry="14" fill="#dcdcde" opacity="0.6" stroke="#9a9aa0" stroke-opacity="0.4" stroke-width="1.5"/>
<ellipse cx="-2" cy="1" rx="28" ry="8" fill="none" stroke="#a8a8ac" stroke-opacity="0.45" stroke-width="2"/>
<ellipse cx="40" cy="8" rx="6" ry="5" fill="#f0f0f0" opacity="0.4"/>
<path d="M-31 7.0 C-31 111.7 -24.2 181.4 -15.5 221.0 Q-9.3 232.6 0 232.6 Q9.3 232.6 15.5 221.0 C24.2 181.4 31 111.7 31 7.0 Z" fill="url(#tg-Blank)" opacity="0.96"/>
<path d="M-30 69.8 C-30 116.3 -21.7 186.1 -12.4 221.0 L-1.6 209.4 C-12.4 174.5 -23 116.3 -24 69.8 Z" fill="#c9b873" opacity="0.75"/>
<path d="M-20.5 27.9 L-18.0 116.3 Q-14.0 160.5 1.6 160.5 Q17.1 160.5 20.5 116.3 L22.9 27.9 Z" fill="#fff" opacity="0.16"/>
<path d="M15.5 148.9 L24.2 153.5 L11.2 221.0 L1.6 221.0 Z" fill="#e9dc9c" opacity="0.7"/>
</g>
<ellipse cx="3.1" cy="152.4" rx="3.2" ry="1.2" fill="#fff" opacity="0.9" transform="rotate(-15 3.1 152.4)"/>
</g>
<g transform="translate(622 724) rotate(-1.96)">
<g filter="url(#blur1)">
<ellipse cx="-2" cy="-1" rx="37" ry="14" fill="#dcdcde" opacity="0.6" stroke="#9a9aa0" stroke-opacity="0.4" stroke-width="1.5"/>
<ellipse cx="-2" cy="1" rx="28" ry="8" fill="none" stroke="#a8a8ac" stroke-opacity="0.45" stroke-width="2"/>
<ellipse cx="40" cy="8" rx="6" ry="5" fill="#f0f0f0" opacity="0.4"/>
<path d="M-31 7.0 C-31 112.4 -24.2 182.6 -15.5 222.4 Q-9.3 234.1 0 234.1 Q9.3 234.1 15.5 222.4 C24.2 182.6 31 112.4 31 7.0 Z" fill="url(#tg-10)" opacity="0.96"/>
<path d="M-30 70.2 C-30 117.1 -21.7 187.3 -12.4 222.4 L-1.6 210.7 C-12.4 175.6 -23 117.1 -24 70.2 Z" fill="#c8b068" opacity="0.75"/>
<path d="M-20.5 28.1 L-18.0 117.1 Q-14.0 161.6 1.6 161.6 Q17.1 161.6 20.5 117.1 L22.9 28.1 Z" fill="#fff" opacity="0.16"/>
<path d="M15.5 149.8 L24.2 154.5 L11.2 222.4 L1.6 222.4 Z" fill="#ead79a" opacity="0.7"/>
</g>
<ellipse cx="3.1" cy="153.4" rx="3.2" ry="1.2" fill="#fff" opacity="0.9" transform="rotate(-15 3.1 153.4)"/>
</g>
<g transform="translate(735 724) rotate(-2.10)">
<g filter="url(#blur1)">
<ellipse cx="-2" cy="-1" rx="38" ry="14" fill="#dcdcde" opacity="0.6" stroke="#9a9aa0" stroke-opacity="0.4" stroke-width="1.5"/>
<ellipse cx="-2" cy="1" rx="29" ry="8" fill="none" stroke="#a8a8ac" stroke-opacity="0.45" stroke-width="2"/>
<ellipse cx="41" cy="8" rx="6" ry="5" fill="#f0f0f0" opacity="0.4"/>
<path d="M-32 7.4 C-32 117.7 -25.0 191.2 -16.0 232.9 Q-9.6 245.2 0 245.2 Q9.6 245.2 16.0 232.9 C25.0 191.2 32 117.7 32 7.4 Z" fill="url(#tg-20)" opacity="0.96"/>
<path d="M-31 73.5 C-31 122.6 -22.4 196.1 -12.8 232.9 L-1.6 220.6 C-12.8 183.9 -24 122.6 -25 73.5 Z" fill="#c39c60" opacity="0.75"/>
<path d="M-21.1 29.4 L-18.6 122.6 Q-14.4 169.2 1.6 169.2 Q17.6 169.2 21.1 122.6 L23.7 29.4 Z" fill="#fff" opacity="0.16"/>
<path d="M16.0 156.9 L25.0 161.8 L11.5 232.9 L1.6 232.9 Z" fill="#ecd2a4" opacity="0.7"/>
</g>
<ellipse cx="3.2" cy="160.6" rx="3.2" ry="1.2" fill="#fff" opacity="0.9" transform="rotate(-15 3.2 160.6)"/>
</g>
<g transform="translate(840 726) rotate(-0.48)">
<g filter="url(#blur1)">
<ellipse cx="-2" cy="-1" rx="38" ry="14" fill="#dcdcde" opacity="0.6" stroke="#9a9aa0" stroke-opacity="0.4" stroke-width="1.5"/>
<ellipse cx="-2" cy="1" rx="29" ry="8" fill="none" stroke="#a8a8ac" stroke-opacity="0.45" stroke-width="2"/>
<ellipse cx="41" cy="8" rx="6" ry="5" fill="#f0f0f0" opacity="0.4"/>
<path d="M-32 7.2 C-32 115.7 -25.0 188.0 -16.0 229.0 Q-9.6 241.0 0 241.0 Q9.6 241.0 16.0 229.0 C25.0 188.0 32 115.7 32 7.2 Z" fill="url(#tg-30)" opacity="0.96"/>
<path d="M-31 72.3 C-31 120.5 -22.4 192.8 -12.8 229.0 L-1.6 216.9 C-12.8 180.8 -24 120.5 -25 72.3 Z" fill="#bd9058" opacity="0.75"/>
<path d="M-21.1 28.9 L-18.6 120.5 Q-14.4 166.3 1.6 166.3 Q17.6 166.3 21.1 120.5 L23.7 28.9 Z" fill="#fff" opacity="0.16"/>
<path d="M16.0 154.2 L25.0 159.1 L11.5 229.0 L1.6 229.0 Z" fill="#ecd0a8" opacity="0.7"/>
</g>
<ellipse cx="3.2" cy="157.9" rx="3.2" ry="1.2" fill="#fff" opacity="0.9" transform="rotate(-15 3.2 157.9)"/>
</g>
<g transform="translate(950 730) rotate(0.47)">
<g filter="url(#blur1)">
<ellipse cx="-2" cy="-1" rx="38" ry="14" fill="#dcdcde" opacity="0.6" stroke="#9a9aa0" stroke-opacity="0.4" stroke-width="1.5"/>
<ellipse cx="-2" cy="1" rx="29" ry="8" fill="none" stroke="#a8a8ac" stroke-opacity="0.45" stroke-width="2"/>
<ellipse cx="41" cy="8" rx="6" ry="5" fill="#f0f0f0" opacity="0.4"/>
<path d="M-32 7.3 C-32 117.1 -25.0 190.3 -16.0 231.8 Q-9.6 244.0 0 244.0 Q9.6 244.0 16.0 231.8 C25.0 190.3 32 117.1 32 7.3 Z" fill="url(#tg-40)" opacity="0.96"/>
<path d="M-31 73.2 C-31 122.0 -22.4 195.2 -12.8 231.8 L-1.6 219.6 C-12.8 183.0 -24 122.0 -25 73.2 Z" fill="#bb865c" opacity="0.75"/>
<path d="M-21.1 29.3 L-18.6 122.0 Q-14.4 168.4 1.6 168.4 Q17.6 168.4 21.1 122.0 L23.7 29.3 Z" fill="#fff" opacity="0.16"/>
<path d="M16.0 156.2 L25.0 161.0 L11.5 231.8 L1.6 231.8 Z" fill="#ecc4a0" opacity="0.7"/>
</g>
<ellipse cx="3.2" cy="159.8" rx="3.2" ry="1.2" fill="#fff" opacity="0.9" transform="rotate(-15 3.2 159.8)"/>
</g>
<g transform="translate(1060 732) rotate(0.95)">
<g filter="url(#blur1)">
<ellipse cx="-2" cy="-1" rx="38" ry="14" fill="#dcdcde" opacity="0.6" stroke="#9a9aa0" stroke-opacity="0.4" stroke-width="1.5"/>
<ellipse cx="-2" cy="1" rx="29" ry="8" fill="none" stroke="#a8a8ac" stroke-opacity="0.45" stroke-width="2"/>
<ellipse cx="41" cy="8" rx="6" ry="5" fill="#f0f0f0" opacity="0.4"/>
<path d="M-32 7.3 C-32 116.2 -25.0 188.8 -16.0 229.9 Q-9.6 242.0 0 242.0 Q9.6 242.0 16.0 229.9 C25.0 188.8 32 116.2 32 7.3 Z" fill="url(#tg-50)" opacity="0.96"/>
<path d="M-31 72.6 C-31 121.0 -22.4 193.6 -12.8 229.9 L-1.6 217.8 C-12.8 181.5 -24 121.0 -25 72.6 Z" fill="#c07c64" opacity="0.75"/>
<path d="M-21.1 29.0 L-18.6 121.0 Q-14.4 167.0 1.6 167.0 Q17.6 167.0 21.1 121.0 L23.7 29.0 Z" fill="#fff" opacity="0.16"/>
<path d="M16.0 154.9 L25.0 159.7 L11.5 229.9 L1.6 229.9 Z" fill="#f0c0a6" opacity="0.7"/>
</g>
<ellipse cx="3.2" cy="158.5" rx="3.2" ry="1.2" fill="#fff" opacity="0.9" transform="rotate(-15 3.2 158.5)"/>
</g>
<g transform="translate(1164 738) rotate(0.00)">
<g filter="url(#blur1)">
<ellipse cx="-2" cy="-1" rx="38" ry="14" fill="#dcdcde" opacity="0.6" stroke="#9a9aa0" stroke-opacity="0.4" stroke-width="1.5"/>
<ellipse cx="-2" cy="1" rx="29" ry="8" fill="none" stroke="#a8a8ac" stroke-opacity="0.45" stroke-width="2"/>
<ellipse cx="41" cy="8" rx="6" ry="5" fill="#f0f0f0" opacity="0.4"/>
<path d="M-32 7.3 C-32 116.6 -25.0 189.5 -16.0 230.8 Q-9.6 243.0 0 243.0 Q9.6 243.0 16.0 230.8 C25.0 189.5 32 116.6 32 7.3 Z" fill="url(#tg-60)" opacity="0.96"/>
<path d="M-31 72.9 C-31 121.5 -22.4 194.4 -12.8 230.8 L-1.6 218.7 C-12.8 182.2 -24 121.5 -25 72.9 Z" fill="#bd6c60" opacity="0.75"/>
<path d="M-21.1 29.2 L-18.6 121.5 Q-14.4 167.7 1.6 167.7 Q17.6 167.7 21.1 121.5 L23.7 29.2 Z" fill="#fff" opacity="0.16"/>
<path d="M16.0 155.5 L25.0 160.4 L11.5 230.8 L1.6 230.8 Z" fill="#ecb0a0" opacity="0.7"/>
</g>
<ellipse cx="3.2" cy="159.2" rx="3.2" ry="1.2" fill="#fff" opacity="0.9" transform="rotate(-15 3.2 159.2)"/>
</g>
<g transform="translate(455 1010) rotate(-2.76)">
<g filter="url(#blur1)">
<ellipse cx="-2" cy="-1" rx="39" ry="14" fill="#dcdcde" opacity="0.6" stroke="#9a9aa0" stroke-opacity="0.4" stroke-width="1.5"/>
<ellipse cx="-2" cy="1" rx="30" ry="8" fill="none" stroke="#a8a8ac" stroke-opacity="0.45" stroke-width="2"/>
<ellipse cx="42" cy="8" rx="6" ry="5" fill="#f0f0f0" opacity="0.4"/>
<path d="M-33 6.8 C-33 104.1 -24.8 176.0 -15.3 216.9 Q-9.3 228.3 0 228.3 Q9.3 228.3 15.3 216.9 C24.8 176.0 33 104.1 33 6.8 Z" fill="url(#tg-70)" opacity="0.96"/>
<path d="M-32 68.5 C-32 114.1 -23.1 182.6 -13.2 216.9 L-1.7 205.4 C-13.2 171.2 -25 114.1 -26 68.5 Z" fill="#8a4e4c" opacity="0.75"/>
<path d="M-21.8 27.4 L-19.1 114.1 Q-14.8 157.5 1.7 157.5 Q18.2 157.5 21.8 114.1 L24.4 27.4 Z" fill="#fff" opacity="0.16"/>
<path d="M16.5 146.1 L25.7 150.7 L11.9 216.9 L1.7 216.9 Z" fill="#c49690" opacity="0.7"/>
</g>
<ellipse cx="3.3" cy="149.5" rx="3.2" ry="1.2" fill="#fff" opacity="0.9" transform="rotate(-15 3.3 149.5)"/>
</g>
<g transform="translate(568 1028) rotate(-4.44)">
<g filter="url(#blur1)">
<ellipse cx="-2" cy="-1" rx="37.5" ry="14" fill="#dcdcde" opacity="0.6" stroke="#9a9aa0" stroke-opacity="0.4" stroke-width="1.5"/>
<ellipse cx="-2" cy="1" rx="28.5" ry="8" fill="none" stroke="#a8a8ac" stroke-opacity="0.45" stroke-width="2"/>
<ellipse cx="40.5" cy="8" rx="6" ry="5" fill="#f0f0f0" opacity="0.4"/>
<path d="M-31.5 6.6 C-31.5 96.6 -23.0 168.0 -13.9 208.7 Q-8.5 219.7 0 219.7 Q8.5 219.7 13.9 208.7 C23.0 168.0 31.5 96.6 31.5 6.6 Z" fill="url(#tg-80)" opacity="0.96"/>
<path d="M-30.5 65.9 C-30.5 109.8 -22.0 175.7 -12.6 208.7 L-1.6 197.7 C-12.6 164.7 -23.5 109.8 -24.5 65.9 Z" fill="#702e36" opacity="0.75"/>
<path d="M-20.8 26.4 L-18.3 109.8 Q-14.2 151.6 1.6 151.6 Q17.3 151.6 20.8 109.8 L23.3 26.4 Z" fill="#fff" opacity="0.16"/>
<path d="M15.8 140.6 L24.6 145.0 L11.3 208.7 L1.6 208.7 Z" fill="#a06c70" opacity="0.7"/>
</g>
<ellipse cx="3.2" cy="143.9" rx="3.2" ry="1.2" fill="#fff" opacity="0.9" transform="rotate(-15 3.2 143.9)"/>
</g>
<g transform="translate(677 1030) rotate(-1.30)">
<g filter="url(#blur1)">
<ellipse cx="-2" cy="-1" rx="37.5" ry="14" fill="#dcdcde" opacity="0.6" stroke="#9a9aa0" stroke-opacity="0.4" stroke-width="1.5"/>
<ellipse cx="-2" cy="1" rx="28.5" ry="8" fill="none" stroke="#a8a8ac" stroke-opacity="0.45" stroke-width="2"/>
<ellipse cx="40.5" cy="8" rx="6" ry="5" fill="#f0f0f0" opacity="0.4"/>
<path d="M-31.5 6.6 C-31.5 97.3 -23.0 169.1 -13.9 210.0 Q-8.5 221.1 0 221.1 Q8.5 221.1 13.9 210.0 C23.0 169.1 31.5 97.3 31.5 6.6 Z" fill="url(#tg-90)" opacity="0.96"/>
<path d="M-30.5 66.3 C-30.5 110.5 -22.0 176.8 -12.6 210.0 L-1.6 199.0 C-12.6 165.8 -23.5 110.5 -24.5 66.3 Z" fill="#68262e" opacity="0.75"/>
<path d="M-20.8 26.5 L-18.3 110.5 Q-14.2 152.5 1.6 152.5 Q17.3 152.5 20.8 110.5 L23.3 26.5 Z" fill="#fff" opacity="0.16"/>
<path d="M15.8 141.5 L24.6 145.9 L11.3 210.0 L1.6 210.0 Z" fill="#986468" opacity="0.7"/>
</g>
<ellipse cx="3.2" cy="144.8" rx="3.2" ry="1.2" fill="#fff" opacity="0.9" transform="rotate(-15 3.2 144.8)"/>
</g>
<g transform="translate(791 1022) rotate(-2.00)">
<g filter="url(#blur1)">
<ellipse cx="-2" cy="-1" rx="37.5" ry="14" fill="#dcdcde" opacity="0.6" stroke="#9a9aa0" stroke-opacity="0.4" stroke-width="1.5"/>
<ellipse cx="-2" cy="1" rx="28.5" ry="8" fill="none" stroke="#a8a8ac" stroke-opacity="0.45" stroke-width="2"/>
<ellipse cx="40.5" cy="8" rx="6" ry="5" fill="#f0f0f0" opacity="0.4"/>
<path d="M-31.5 6.9 C-31.5 100.8 -23.0 175.3 -13.9 217.7 Q-8.5 229.1 0 229.1 Q8.5 229.1 13.9 217.7 C23.0 175.3 31.5 100.8 31.5 6.9 Z" fill="url(#tg-100)" opacity="0.96"/>
<path d="M-30.5 68.7 C-30.5 114.6 -22.0 183.3 -12.6 217.7 L-1.6 206.2 C-12.6 171.9 -23.5 114.6 -24.5 68.7 Z" fill="#722830" opacity="0.75"/>
<path d="M-20.8 27.5 L-18.3 114.6 Q-14.2 158.1 1.6 158.1 Q17.3 158.1 20.8 114.6 L23.3 27.5 Z" fill="#fff" opacity="0.16"/>
<path d="M15.8 146.6 L24.6 151.2 L11.3 217.7 L1.6 217.7 Z" fill="#98606a" opacity="0.7"/>
</g>
<ellipse cx="3.2" cy="150.1" rx="3.2" ry="1.2" fill="#fff" opacity="0.9" transform="rotate(-15 3.2 150.1)"/>
</g>
<g transform="translate(904 1030) rotate(-0.25)">
<g filter="url(#blur1)">
<ellipse cx="-2" cy="-1" rx="36.5" ry="14" fill="#a49eb4" opacity="0.6" stroke="#9a9aa0" stroke-opacity="0.4" stroke-width="1.5"/>
<ellipse cx="-2" cy="1" rx="27.5" ry="8" fill="none" stroke="#a8a8ac" stroke-opacity="0.45" stroke-width="2"/>
<ellipse cx="39.5" cy="8" rx="6" ry="5" fill="#f0f0f0" opacity="0.4"/>
<path d="M-30.5 6.8 C-30.5 91.2 -20.7 171.0 -11.6 216.6 Q-7.3 228.0 0 228.0 Q7.3 228.0 11.6 216.6 C20.7 171.0 30.5 91.2 30.5 6.8 Z" fill="url(#tg-200)" opacity="0.96"/>
<path d="M-29.5 68.4 C-29.5 114.0 -21.3 182.4 -12.2 216.6 L-1.5 205.2 C-12.2 171.0 -22.5 114.0 -23.5 68.4 Z" fill="#2a0c22" opacity="0.75"/>
<path d="M-20.1 27.4 L-17.7 114.0 Q-13.7 157.3 1.5 157.3 Q16.8 157.3 20.1 114.0 L22.6 27.4 Z" fill="#fff" opacity="0.07"/>
<path d="M18.9 109.4 L21.3 109.4 L12.8 182.4 L11.0 182.4 Z" fill="#e8d8e8" opacity="0.55"/>
</g>
<ellipse cx="3.1" cy="149.3" rx="3.2" ry="1.2" fill="#fff" opacity="0.9" transform="rotate(-15 3.1 149.3)"/>
</g>
<g transform="translate(1014.5 1034) rotate(-0.13)">
<g filter="url(#blur1)">
<ellipse cx="-2" cy="-1" rx="36.5" ry="14" fill="#a49eb4" opacity="0.6" stroke="#9a9aa0" stroke-opacity="0.4" stroke-width="1.5"/>
<ellipse cx="-2" cy="1" rx="27.5" ry="8" fill="none" stroke="#a8a8ac" stroke-opacity="0.45" stroke-width="2"/>
<ellipse cx="39.5" cy="8" rx="6" ry="5" fill="#f0f0f0" opacity="0.4"/>
<path d="M-30.5 6.8 C-30.5 90.0 -20.7 168.8 -11.6 213.8 Q-7.3 225.0 0 225.0 Q7.3 225.0 11.6 213.8 C20.7 168.8 30.5 90.0 30.5 6.8 Z" fill="url(#tg-300)" opacity="0.96"/>
<path d="M-29.5 67.5 C-29.5 112.5 -21.3 180.0 -12.2 213.8 L-1.5 202.5 C-12.2 168.8 -22.5 112.5 -23.5 67.5 Z" fill="#260a20" opacity="0.75"/>
<path d="M-20.1 27.0 L-17.7 112.5 Q-13.7 155.3 1.5 155.3 Q16.8 155.3 20.1 112.5 L22.6 27.0 Z" fill="#fff" opacity="0.07"/>
<path d="M18.9 108.0 L21.3 108.0 L12.8 180.0 L11.0 180.0 Z" fill="#e8d8e8" opacity="0.55"/>
</g>
<ellipse cx="3.1" cy="147.4" rx="3.2" ry="1.2" fill="#fff" opacity="0.9" transform="rotate(-15 3.1 147.4)"/>
</g>
<g transform="translate(1127 1036) rotate(0.00)">
<g filter="url(#blur1)">
<ellipse cx="-2" cy="-1" rx="36.5" ry="14" fill="#a49eb4" opacity="0.6" stroke="#9a9aa0" stroke-opacity="0.4" stroke-width="1.5"/>
<ellipse cx="-2" cy="1" rx="27.5" ry="8" fill="none" stroke="#a8a8ac" stroke-opacity="0.45" stroke-width="2"/>
<ellipse cx="39.5" cy="8" rx="6" ry="5" fill="#f0f0f0" opacity="0.4"/>
<path d="M-30.5 6.8 C-30.5 90.0 -20.7 168.8 -11.6 213.8 Q-7.3 225.0 0 225.0 Q7.3 225.0 11.6 213.8 C20.7 168.8 30.5 90.0 30.5 6.8 Z" fill="url(#tg-400)" opacity="0.96"/>
<path d="M-29.5 67.5 C-29.5 112.5 -21.3 180.0 -12.2 213.8 L-1.5 202.5 C-12.2 168.8 -22.5 112.5 -23.5 67.5 Z" fill="#2a0a22" opacity="0.75"/>
<path d="M-20.1 27.0 L-17.7 112.5 Q-13.7 155.2 1.5 155.2 Q16.8 155.2 20.1 112.5 L22.6 27.0 Z" fill="#fff" opacity="0.07"/>
<path d="M18.9 108.0 L21.3 108.0 L12.8 180.0 L11.0 180.0 Z" fill="#e8d8e8" opacity="0.55"/>
</g>
<ellipse cx="3.1" cy="147.4" rx="3.2" ry="1.2" fill="#fff" opacity="0.9" transform="rotate(-15 3.1 147.4)"/>
</g>
<g transform="translate(1236.5 1042) rotate(-0.05)">
<g filter="url(#blur1)">
<ellipse cx="-2" cy="-1" rx="36.5" ry="14" fill="#a49eb4" opacity="0.6" stroke="#9a9aa0" stroke-opacity="0.4" stroke-width="1.5"/>
<ellipse cx="-2" cy="1" rx="27.5" ry="8" fill="none" stroke="#a8a8ac" stroke-opacity="0.45" stroke-width="2"/>
<ellipse cx="39.5" cy="8" rx="6" ry="5" fill="#f0f0f0" opacity="0.4"/>
<path d="M-30.5 6.7 C-30.5 88.8 -20.7 166.5 -11.6 210.9 Q-7.3 222.0 0 222.0 Q7.3 222.0 11.6 210.9 C20.7 166.5 30.5 88.8 30.5 6.7 Z" fill="url(#tg-500)" opacity="0.96"/>
<path d="M-29.5 66.6 C-29.5 111.0 -21.3 177.6 -12.2 210.9 L-1.5 199.8 C-12.2 166.5 -22.5 111.0 -23.5 66.6 Z" fill="#26081c" opacity="0.75"/>
<path d="M-20.1 26.6 L-17.7 111.0 Q-13.7 153.2 1.5 153.2 Q16.8 153.2 20.1 111.0 L22.6 26.6 Z" fill="#fff" opacity="0.07"/>
<path d="M18.9 106.6 L21.3 106.6 L12.8 177.6 L11.0 177.6 Z" fill="#e8d8e8" opacity="0.55"/>
</g>
<ellipse cx="3.1" cy="145.4" rx="3.2" ry="1.2" fill="#fff" opacity="0.9" transform="rotate(-15 3.1 145.4)"/>
</g>
<g font-family='"Liberation Serif", serif' font-weight="bold" font-size="29.6" fill="#ffff00" stroke="#ffff00" stroke-width="0.4">
<text x="513.0" y="766" text-anchor="middle">Blank</text>
<text x="621.5" y="766" text-anchor="middle">10 μM</text>
<text x="730.0" y="766" text-anchor="middle">20 μM</text>
<text x="831.5" y="766" text-anchor="middle">30 μM</text>
<text x="944.0" y="766" text-anchor="middle">40 μM</text>
<text x="1059.0" y="766" text-anchor="middle">50 μM</text>
<text x="1160.0" y="766" text-anchor="middle">60 μM</text>
<text x="444.0" y="1061" text-anchor="middle">70 μM</text>
<text x="557.0" y="1061" text-anchor="middle">80 μM</text>
<text x="663.0" y="1061" text-anchor="middle">90 μM</text>
<text x="787.0" y="1061" text-anchor="middle">100 μM</text>
<text x="896.5" y="1061" text-anchor="middle">200 μM</text>
<text x="1007.5" y="1061" text-anchor="middle">300 μM</text>
<text x="1121.5" y="1061" text-anchor="middle">400 μM</text>
<text x="1230.5" y="1061" text-anchor="middle">500 μM</text>
</g>
<text transform="translate(405.00 738.20) scale(1.04 1)" text-anchor="start" font-family='"Liberation Serif", serif' font-weight="bold" font-size="35.5" fill="#000" stroke="#000" stroke-width="0.3">(c)</text>
</g>
</g>
</g>
</svg>
</body></html>
